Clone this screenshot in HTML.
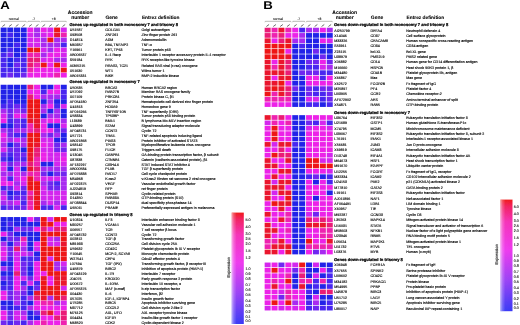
<!DOCTYPE html>
<html><head><meta charset="utf-8"><style>
html,body{margin:0;padding:0;background:#fff;width:520px;height:325px;overflow:hidden}
svg{display:block;font-family:"Liberation Sans",sans-serif;text-rendering:geometricPrecision;will-change:transform}
</style></head><body>
<svg width="520" height="325" viewBox="0 0 520 325">
<defs><filter id="bt" x="0" y="0" width="1" height="1"><feGaussianBlur stdDeviation="0.25"/></filter><filter id="bl" x="-0.05" y="-0.05" width="1.1" height="1.1"><feGaussianBlur stdDeviation="0.4"/></filter><linearGradient id="lg" x1="0" y1="0" x2="0" y2="1">
<stop offset="0" stop-color="#f01818"/>
<stop offset="0.06" stop-color="#f22060"/>
<stop offset="0.2" stop-color="#f530b8"/>
<stop offset="0.45" stop-color="#ee38ee"/>
<stop offset="0.72" stop-color="#9a40f5"/>
<stop offset="1" stop-color="#3838f5"/>
</linearGradient>
<linearGradient id="lh" x1="0" y1="0" x2="1" y2="0">
<stop offset="0" stop-color="#fff" stop-opacity="0.6"/>
<stop offset="0.18" stop-color="#fff" stop-opacity="0.25"/>
<stop offset="0.4" stop-color="#fff" stop-opacity="0.03"/>
<stop offset="1" stop-color="#fff" stop-opacity="0"/>
</linearGradient></defs>
<rect width="520" height="325" fill="#fff"/>
<g filter="url(#bl)"><rect x="0.65" y="27.55" width="6.00" height="4.70" fill="#2024e8"/>
<rect x="7.33" y="27.55" width="6.00" height="4.70" fill="#2024e8"/>
<rect x="14.01" y="27.55" width="6.00" height="4.70" fill="#2024e8"/>
<rect x="20.69" y="27.55" width="6.00" height="4.70" fill="#2024e8"/>
<rect x="27.37" y="27.55" width="6.00" height="4.70" fill="#ec23e8"/>
<rect x="34.05" y="27.55" width="6.00" height="4.70" fill="#a82af0"/>
<rect x="40.73" y="27.55" width="6.00" height="4.70" fill="#ec23e8"/>
<rect x="47.41" y="27.55" width="6.00" height="4.70" fill="#d428ee"/>
<rect x="54.09" y="27.55" width="6.00" height="4.70" fill="#ee1416"/>
<rect x="60.77" y="27.55" width="6.00" height="4.70" fill="#d428ee"/>
<rect x="0.65" y="32.58" width="6.00" height="4.70" fill="#2024e8"/>
<rect x="7.33" y="32.58" width="6.00" height="4.70" fill="#4828f0"/>
<rect x="14.01" y="32.58" width="6.00" height="4.70" fill="#2024e8"/>
<rect x="20.69" y="32.58" width="6.00" height="4.70" fill="#2024e8"/>
<rect x="27.37" y="32.58" width="6.00" height="4.70" fill="#d428ee"/>
<rect x="34.05" y="32.58" width="6.00" height="4.70" fill="#a82af0"/>
<rect x="40.73" y="32.58" width="6.00" height="4.70" fill="#d428ee"/>
<rect x="47.41" y="32.58" width="6.00" height="4.70" fill="#ec23e8"/>
<rect x="54.09" y="32.58" width="6.00" height="4.70" fill="#ea162d"/>
<rect x="60.77" y="32.58" width="6.00" height="4.70" fill="#ee20af"/>
<rect x="0.65" y="37.61" width="6.00" height="4.70" fill="#2024e8"/>
<rect x="7.33" y="37.61" width="6.00" height="4.70" fill="#2024e8"/>
<rect x="14.01" y="37.61" width="6.00" height="4.70" fill="#2024e8"/>
<rect x="20.69" y="37.61" width="6.00" height="4.70" fill="#2024e8"/>
<rect x="27.37" y="37.61" width="6.00" height="4.70" fill="#d428ee"/>
<rect x="34.05" y="37.61" width="6.00" height="4.70" fill="#d428ee"/>
<rect x="40.73" y="37.61" width="6.00" height="4.70" fill="#a82af0"/>
<rect x="47.41" y="37.61" width="6.00" height="4.70" fill="#ee1416"/>
<rect x="54.09" y="37.61" width="6.00" height="4.70" fill="#a82af0"/>
<rect x="60.77" y="37.61" width="6.00" height="4.70" fill="#a82af0"/>
<rect x="0.65" y="42.64" width="6.00" height="4.70" fill="#2024e8"/>
<rect x="7.33" y="42.64" width="6.00" height="4.70" fill="#2024e8"/>
<rect x="14.01" y="42.64" width="6.00" height="4.70" fill="#4828f0"/>
<rect x="20.69" y="42.64" width="6.00" height="4.70" fill="#2024e8"/>
<rect x="27.37" y="42.64" width="6.00" height="4.70" fill="#d428ee"/>
<rect x="34.05" y="42.64" width="6.00" height="4.70" fill="#d428ee"/>
<rect x="40.73" y="42.64" width="6.00" height="4.70" fill="#a82af0"/>
<rect x="47.41" y="42.64" width="6.00" height="4.70" fill="#a82af0"/>
<rect x="54.09" y="42.64" width="6.00" height="4.70" fill="#a82af0"/>
<rect x="60.77" y="42.64" width="6.00" height="4.70" fill="#4828f0"/>
<rect x="0.65" y="47.67" width="6.00" height="4.70" fill="#2024e8"/>
<rect x="7.33" y="47.67" width="6.00" height="4.70" fill="#4828f0"/>
<rect x="14.01" y="47.67" width="6.00" height="4.70" fill="#2024e8"/>
<rect x="20.69" y="47.67" width="6.00" height="4.70" fill="#2024e8"/>
<rect x="27.37" y="47.67" width="6.00" height="4.70" fill="#ee1416"/>
<rect x="34.05" y="47.67" width="6.00" height="4.70" fill="#ee1416"/>
<rect x="40.73" y="47.67" width="6.00" height="4.70" fill="#d428ee"/>
<rect x="47.41" y="47.67" width="6.00" height="4.70" fill="#a82af0"/>
<rect x="54.09" y="47.67" width="6.00" height="4.70" fill="#ec23e8"/>
<rect x="60.77" y="47.67" width="6.00" height="4.70" fill="#d428ee"/>
<rect x="0.65" y="52.70" width="6.00" height="4.70" fill="#4828f0"/>
<rect x="7.33" y="52.70" width="6.00" height="4.70" fill="#7028f0"/>
<rect x="14.01" y="52.70" width="6.00" height="4.70" fill="#2024e8"/>
<rect x="20.69" y="52.70" width="6.00" height="4.70" fill="#4828f0"/>
<rect x="27.37" y="52.70" width="6.00" height="4.70" fill="#ee20af"/>
<rect x="34.05" y="52.70" width="6.00" height="4.70" fill="#ee20af"/>
<rect x="40.73" y="52.70" width="6.00" height="4.70" fill="#a82af0"/>
<rect x="47.41" y="52.70" width="6.00" height="4.70" fill="#ec23e8"/>
<rect x="54.09" y="52.70" width="6.00" height="4.70" fill="#ec23e8"/>
<rect x="60.77" y="52.70" width="6.00" height="4.70" fill="#d428ee"/>
<rect x="0.65" y="57.73" width="6.00" height="4.70" fill="#4828f0"/>
<rect x="7.33" y="57.73" width="6.00" height="4.70" fill="#2024e8"/>
<rect x="14.01" y="57.73" width="6.00" height="4.70" fill="#4828f0"/>
<rect x="20.69" y="57.73" width="6.00" height="4.70" fill="#4828f0"/>
<rect x="27.37" y="57.73" width="6.00" height="4.70" fill="#ea1c76"/>
<rect x="34.05" y="57.73" width="6.00" height="4.70" fill="#ea1c76"/>
<rect x="40.73" y="57.73" width="6.00" height="4.70" fill="#d428ee"/>
<rect x="47.41" y="57.73" width="6.00" height="4.70" fill="#ec23e8"/>
<rect x="54.09" y="57.73" width="6.00" height="4.70" fill="#a82af0"/>
<rect x="60.77" y="57.73" width="6.00" height="4.70" fill="#a82af0"/>
<rect x="0.65" y="62.76" width="6.00" height="4.70" fill="#4828f0"/>
<rect x="7.33" y="62.76" width="6.00" height="4.70" fill="#2024e8"/>
<rect x="14.01" y="62.76" width="6.00" height="4.70" fill="#7028f0"/>
<rect x="20.69" y="62.76" width="6.00" height="4.70" fill="#4828f0"/>
<rect x="27.37" y="62.76" width="6.00" height="4.70" fill="#ea1c76"/>
<rect x="34.05" y="62.76" width="6.00" height="4.70" fill="#ee20af"/>
<rect x="40.73" y="62.76" width="6.00" height="4.70" fill="#ee1416"/>
<rect x="47.41" y="62.76" width="6.00" height="4.70" fill="#ec23e8"/>
<rect x="54.09" y="62.76" width="6.00" height="4.70" fill="#ee1416"/>
<rect x="60.77" y="62.76" width="6.00" height="4.70" fill="#ec23e8"/>
<rect x="0.65" y="67.79" width="6.00" height="4.70" fill="#4828f0"/>
<rect x="7.33" y="67.79" width="6.00" height="4.70" fill="#4828f0"/>
<rect x="14.01" y="67.79" width="6.00" height="4.70" fill="#4828f0"/>
<rect x="20.69" y="67.79" width="6.00" height="4.70" fill="#4828f0"/>
<rect x="27.37" y="67.79" width="6.00" height="4.70" fill="#ee20af"/>
<rect x="34.05" y="67.79" width="6.00" height="4.70" fill="#ec23e8"/>
<rect x="40.73" y="67.79" width="6.00" height="4.70" fill="#ec23e8"/>
<rect x="47.41" y="67.79" width="6.00" height="4.70" fill="#ec23e8"/>
<rect x="54.09" y="67.79" width="6.00" height="4.70" fill="#ec23e8"/>
<rect x="60.77" y="67.79" width="6.00" height="4.70" fill="#ee1416"/>
<rect x="0.65" y="72.82" width="6.00" height="4.70" fill="#4828f0"/>
<rect x="7.33" y="72.82" width="6.00" height="4.70" fill="#7028f0"/>
<rect x="14.01" y="72.82" width="6.00" height="4.70" fill="#4828f0"/>
<rect x="20.69" y="72.82" width="6.00" height="4.70" fill="#7028f0"/>
<rect x="27.37" y="72.82" width="6.00" height="4.70" fill="#ec23e8"/>
<rect x="34.05" y="72.82" width="6.00" height="4.70" fill="#ec23e8"/>
<rect x="40.73" y="72.82" width="6.00" height="4.70" fill="#ec23e8"/>
<rect x="47.41" y="72.82" width="6.00" height="4.70" fill="#ec23e8"/>
<rect x="54.09" y="72.82" width="6.00" height="4.70" fill="#ee20af"/>
<rect x="60.77" y="72.82" width="6.00" height="4.70" fill="#ec23e8"/>
<rect x="0.65" y="84.75" width="6.00" height="4.70" fill="#2024e8"/>
<rect x="7.33" y="84.75" width="6.00" height="4.70" fill="#2024e8"/>
<rect x="14.01" y="84.75" width="6.00" height="4.70" fill="#2024e8"/>
<rect x="20.69" y="84.75" width="6.00" height="4.70" fill="#2024e8"/>
<rect x="27.37" y="84.75" width="6.00" height="4.70" fill="#ea1c76"/>
<rect x="34.05" y="84.75" width="6.00" height="4.70" fill="#ec23e8"/>
<rect x="40.73" y="84.75" width="6.00" height="4.70" fill="#2024e8"/>
<rect x="47.41" y="84.75" width="6.00" height="4.70" fill="#2024e8"/>
<rect x="54.09" y="84.75" width="6.00" height="4.70" fill="#ec23e8"/>
<rect x="60.77" y="84.75" width="6.00" height="4.70" fill="#2024e8"/>
<rect x="0.65" y="89.57" width="6.00" height="4.70" fill="#2024e8"/>
<rect x="7.33" y="89.57" width="6.00" height="4.70" fill="#2024e8"/>
<rect x="14.01" y="89.57" width="6.00" height="4.70" fill="#2024e8"/>
<rect x="20.69" y="89.57" width="6.00" height="4.70" fill="#2024e8"/>
<rect x="27.37" y="89.57" width="6.00" height="4.70" fill="#ec23e8"/>
<rect x="34.05" y="89.57" width="6.00" height="4.70" fill="#ec23e8"/>
<rect x="40.73" y="89.57" width="6.00" height="4.70" fill="#4828f0"/>
<rect x="47.41" y="89.57" width="6.00" height="4.70" fill="#ec23e8"/>
<rect x="54.09" y="89.57" width="6.00" height="4.70" fill="#ec23e8"/>
<rect x="60.77" y="89.57" width="6.00" height="4.70" fill="#4828f0"/>
<rect x="0.65" y="94.39" width="6.00" height="4.70" fill="#2024e8"/>
<rect x="7.33" y="94.39" width="6.00" height="4.70" fill="#2024e8"/>
<rect x="14.01" y="94.39" width="6.00" height="4.70" fill="#2024e8"/>
<rect x="20.69" y="94.39" width="6.00" height="4.70" fill="#2024e8"/>
<rect x="27.37" y="94.39" width="6.00" height="4.70" fill="#ea1c76"/>
<rect x="34.05" y="94.39" width="6.00" height="4.70" fill="#ec23e8"/>
<rect x="40.73" y="94.39" width="6.00" height="4.70" fill="#a82af0"/>
<rect x="47.41" y="94.39" width="6.00" height="4.70" fill="#a82af0"/>
<rect x="54.09" y="94.39" width="6.00" height="4.70" fill="#a82af0"/>
<rect x="60.77" y="94.39" width="6.00" height="4.70" fill="#4828f0"/>
<rect x="0.65" y="99.21" width="6.00" height="4.70" fill="#2024e8"/>
<rect x="7.33" y="99.21" width="6.00" height="4.70" fill="#4828f0"/>
<rect x="14.01" y="99.21" width="6.00" height="4.70" fill="#2024e8"/>
<rect x="20.69" y="99.21" width="6.00" height="4.70" fill="#2024e8"/>
<rect x="27.37" y="99.21" width="6.00" height="4.70" fill="#ee1416"/>
<rect x="34.05" y="99.21" width="6.00" height="4.70" fill="#ee1416"/>
<rect x="40.73" y="99.21" width="6.00" height="4.70" fill="#2024e8"/>
<rect x="47.41" y="99.21" width="6.00" height="4.70" fill="#a82af0"/>
<rect x="54.09" y="99.21" width="6.00" height="4.70" fill="#2024e8"/>
<rect x="60.77" y="99.21" width="6.00" height="4.70" fill="#2024e8"/>
<rect x="0.65" y="104.03" width="6.00" height="4.70" fill="#4828f0"/>
<rect x="7.33" y="104.03" width="6.00" height="4.70" fill="#4828f0"/>
<rect x="14.01" y="104.03" width="6.00" height="4.70" fill="#7028f0"/>
<rect x="20.69" y="104.03" width="6.00" height="4.70" fill="#4828f0"/>
<rect x="27.37" y="104.03" width="6.00" height="4.70" fill="#ee1416"/>
<rect x="34.05" y="104.03" width="6.00" height="4.70" fill="#ee1416"/>
<rect x="40.73" y="104.03" width="6.00" height="4.70" fill="#a82af0"/>
<rect x="47.41" y="104.03" width="6.00" height="4.70" fill="#ec23e8"/>
<rect x="54.09" y="104.03" width="6.00" height="4.70" fill="#4828f0"/>
<rect x="60.77" y="104.03" width="6.00" height="4.70" fill="#d428ee"/>
<rect x="0.65" y="108.85" width="6.00" height="4.70" fill="#a82af0"/>
<rect x="7.33" y="108.85" width="6.00" height="4.70" fill="#7028f0"/>
<rect x="14.01" y="108.85" width="6.00" height="4.70" fill="#a82af0"/>
<rect x="20.69" y="108.85" width="6.00" height="4.70" fill="#7028f0"/>
<rect x="27.37" y="108.85" width="6.00" height="4.70" fill="#ee1416"/>
<rect x="34.05" y="108.85" width="6.00" height="4.70" fill="#ee1416"/>
<rect x="40.73" y="108.85" width="6.00" height="4.70" fill="#a82af0"/>
<rect x="47.41" y="108.85" width="6.00" height="4.70" fill="#2024e8"/>
<rect x="54.09" y="108.85" width="6.00" height="4.70" fill="#a82af0"/>
<rect x="60.77" y="108.85" width="6.00" height="4.70" fill="#2024e8"/>
<rect x="0.65" y="113.67" width="6.00" height="4.70" fill="#d428ee"/>
<rect x="7.33" y="113.67" width="6.00" height="4.70" fill="#7028f0"/>
<rect x="14.01" y="113.67" width="6.00" height="4.70" fill="#ec23e8"/>
<rect x="20.69" y="113.67" width="6.00" height="4.70" fill="#d428ee"/>
<rect x="27.37" y="113.67" width="6.00" height="4.70" fill="#ee1416"/>
<rect x="34.05" y="113.67" width="6.00" height="4.70" fill="#ee1416"/>
<rect x="40.73" y="113.67" width="6.00" height="4.70" fill="#2024e8"/>
<rect x="47.41" y="113.67" width="6.00" height="4.70" fill="#a82af0"/>
<rect x="54.09" y="113.67" width="6.00" height="4.70" fill="#a82af0"/>
<rect x="60.77" y="113.67" width="6.00" height="4.70" fill="#2024e8"/>
<rect x="0.65" y="118.49" width="6.00" height="4.70" fill="#ec23e8"/>
<rect x="7.33" y="118.49" width="6.00" height="4.70" fill="#4828f0"/>
<rect x="14.01" y="118.49" width="6.00" height="4.70" fill="#7028f0"/>
<rect x="20.69" y="118.49" width="6.00" height="4.70" fill="#4828f0"/>
<rect x="27.37" y="118.49" width="6.00" height="4.70" fill="#ea162d"/>
<rect x="34.05" y="118.49" width="6.00" height="4.70" fill="#ea162d"/>
<rect x="40.73" y="118.49" width="6.00" height="4.70" fill="#d428ee"/>
<rect x="47.41" y="118.49" width="6.00" height="4.70" fill="#ec23e8"/>
<rect x="54.09" y="118.49" width="6.00" height="4.70" fill="#ec23e8"/>
<rect x="60.77" y="118.49" width="6.00" height="4.70" fill="#a82af0"/>
<rect x="0.65" y="123.31" width="6.00" height="4.70" fill="#2024e8"/>
<rect x="7.33" y="123.31" width="6.00" height="4.70" fill="#2024e8"/>
<rect x="14.01" y="123.31" width="6.00" height="4.70" fill="#7028f0"/>
<rect x="20.69" y="123.31" width="6.00" height="4.70" fill="#4828f0"/>
<rect x="27.37" y="123.31" width="6.00" height="4.70" fill="#ee20af"/>
<rect x="34.05" y="123.31" width="6.00" height="4.70" fill="#ea162d"/>
<rect x="40.73" y="123.31" width="6.00" height="4.70" fill="#ec23e8"/>
<rect x="47.41" y="123.31" width="6.00" height="4.70" fill="#2024e8"/>
<rect x="54.09" y="123.31" width="6.00" height="4.70" fill="#2024e8"/>
<rect x="60.77" y="123.31" width="6.00" height="4.70" fill="#d428ee"/>
<rect x="0.65" y="128.13" width="6.00" height="4.70" fill="#a82af0"/>
<rect x="7.33" y="128.13" width="6.00" height="4.70" fill="#7028f0"/>
<rect x="14.01" y="128.13" width="6.00" height="4.70" fill="#a82af0"/>
<rect x="20.69" y="128.13" width="6.00" height="4.70" fill="#a82af0"/>
<rect x="27.37" y="128.13" width="6.00" height="4.70" fill="#ee20af"/>
<rect x="34.05" y="128.13" width="6.00" height="4.70" fill="#ea1c76"/>
<rect x="40.73" y="128.13" width="6.00" height="4.70" fill="#ec23e8"/>
<rect x="47.41" y="128.13" width="6.00" height="4.70" fill="#ec23e8"/>
<rect x="54.09" y="128.13" width="6.00" height="4.70" fill="#7028f0"/>
<rect x="60.77" y="128.13" width="6.00" height="4.70" fill="#7028f0"/>
<rect x="0.65" y="132.95" width="6.00" height="4.70" fill="#ec23e8"/>
<rect x="7.33" y="132.95" width="6.00" height="4.70" fill="#7028f0"/>
<rect x="14.01" y="132.95" width="6.00" height="4.70" fill="#4828f0"/>
<rect x="20.69" y="132.95" width="6.00" height="4.70" fill="#4828f0"/>
<rect x="27.37" y="132.95" width="6.00" height="4.70" fill="#ee1416"/>
<rect x="34.05" y="132.95" width="6.00" height="4.70" fill="#ee1416"/>
<rect x="40.73" y="132.95" width="6.00" height="4.70" fill="#a82af0"/>
<rect x="47.41" y="132.95" width="6.00" height="4.70" fill="#7028f0"/>
<rect x="54.09" y="132.95" width="6.00" height="4.70" fill="#a82af0"/>
<rect x="60.77" y="132.95" width="6.00" height="4.70" fill="#2024e8"/>
<rect x="0.65" y="137.77" width="6.00" height="4.70" fill="#d428ee"/>
<rect x="7.33" y="137.77" width="6.00" height="4.70" fill="#a82af0"/>
<rect x="14.01" y="137.77" width="6.00" height="4.70" fill="#d428ee"/>
<rect x="20.69" y="137.77" width="6.00" height="4.70" fill="#a82af0"/>
<rect x="27.37" y="137.77" width="6.00" height="4.70" fill="#ee1416"/>
<rect x="34.05" y="137.77" width="6.00" height="4.70" fill="#ee1416"/>
<rect x="40.73" y="137.77" width="6.00" height="4.70" fill="#d428ee"/>
<rect x="47.41" y="137.77" width="6.00" height="4.70" fill="#d428ee"/>
<rect x="54.09" y="137.77" width="6.00" height="4.70" fill="#2024e8"/>
<rect x="60.77" y="137.77" width="6.00" height="4.70" fill="#2024e8"/>
<rect x="0.65" y="142.59" width="6.00" height="4.70" fill="#a82af0"/>
<rect x="7.33" y="142.59" width="6.00" height="4.70" fill="#2024e8"/>
<rect x="14.01" y="142.59" width="6.00" height="4.70" fill="#7028f0"/>
<rect x="20.69" y="142.59" width="6.00" height="4.70" fill="#a82af0"/>
<rect x="27.37" y="142.59" width="6.00" height="4.70" fill="#ee1416"/>
<rect x="34.05" y="142.59" width="6.00" height="4.70" fill="#ea162d"/>
<rect x="40.73" y="142.59" width="6.00" height="4.70" fill="#ec23e8"/>
<rect x="47.41" y="142.59" width="6.00" height="4.70" fill="#d428ee"/>
<rect x="54.09" y="142.59" width="6.00" height="4.70" fill="#7028f0"/>
<rect x="60.77" y="142.59" width="6.00" height="4.70" fill="#a82af0"/>
<rect x="0.65" y="147.41" width="6.00" height="4.70" fill="#d428ee"/>
<rect x="7.33" y="147.41" width="6.00" height="4.70" fill="#7028f0"/>
<rect x="14.01" y="147.41" width="6.00" height="4.70" fill="#7028f0"/>
<rect x="20.69" y="147.41" width="6.00" height="4.70" fill="#2024e8"/>
<rect x="27.37" y="147.41" width="6.00" height="4.70" fill="#ee1416"/>
<rect x="34.05" y="147.41" width="6.00" height="4.70" fill="#ea1c76"/>
<rect x="40.73" y="147.41" width="6.00" height="4.70" fill="#d428ee"/>
<rect x="47.41" y="147.41" width="6.00" height="4.70" fill="#d428ee"/>
<rect x="54.09" y="147.41" width="6.00" height="4.70" fill="#7028f0"/>
<rect x="60.77" y="147.41" width="6.00" height="4.70" fill="#7028f0"/>
<rect x="0.65" y="152.23" width="6.00" height="4.70" fill="#7028f0"/>
<rect x="7.33" y="152.23" width="6.00" height="4.70" fill="#4828f0"/>
<rect x="14.01" y="152.23" width="6.00" height="4.70" fill="#7028f0"/>
<rect x="20.69" y="152.23" width="6.00" height="4.70" fill="#7028f0"/>
<rect x="27.37" y="152.23" width="6.00" height="4.70" fill="#ea162d"/>
<rect x="34.05" y="152.23" width="6.00" height="4.70" fill="#ea1c76"/>
<rect x="40.73" y="152.23" width="6.00" height="4.70" fill="#ec23e8"/>
<rect x="47.41" y="152.23" width="6.00" height="4.70" fill="#d428ee"/>
<rect x="54.09" y="152.23" width="6.00" height="4.70" fill="#d428ee"/>
<rect x="60.77" y="152.23" width="6.00" height="4.70" fill="#d428ee"/>
<rect x="0.65" y="157.05" width="6.00" height="4.70" fill="#4828f0"/>
<rect x="7.33" y="157.05" width="6.00" height="4.70" fill="#2024e8"/>
<rect x="14.01" y="157.05" width="6.00" height="4.70" fill="#7028f0"/>
<rect x="20.69" y="157.05" width="6.00" height="4.70" fill="#4828f0"/>
<rect x="27.37" y="157.05" width="6.00" height="4.70" fill="#ea162d"/>
<rect x="34.05" y="157.05" width="6.00" height="4.70" fill="#ee20af"/>
<rect x="40.73" y="157.05" width="6.00" height="4.70" fill="#ec23e8"/>
<rect x="47.41" y="157.05" width="6.00" height="4.70" fill="#d428ee"/>
<rect x="54.09" y="157.05" width="6.00" height="4.70" fill="#d428ee"/>
<rect x="60.77" y="157.05" width="6.00" height="4.70" fill="#ec23e8"/>
<rect x="0.65" y="161.87" width="6.00" height="4.70" fill="#d428ee"/>
<rect x="7.33" y="161.87" width="6.00" height="4.70" fill="#7028f0"/>
<rect x="14.01" y="161.87" width="6.00" height="4.70" fill="#a82af0"/>
<rect x="20.69" y="161.87" width="6.00" height="4.70" fill="#a82af0"/>
<rect x="27.37" y="161.87" width="6.00" height="4.70" fill="#ea1c76"/>
<rect x="34.05" y="161.87" width="6.00" height="4.70" fill="#ee20af"/>
<rect x="40.73" y="161.87" width="6.00" height="4.70" fill="#2024e8"/>
<rect x="47.41" y="161.87" width="6.00" height="4.70" fill="#2024e8"/>
<rect x="54.09" y="161.87" width="6.00" height="4.70" fill="#d428ee"/>
<rect x="60.77" y="161.87" width="6.00" height="4.70" fill="#d428ee"/>
<rect x="0.65" y="166.69" width="6.00" height="4.70" fill="#d428ee"/>
<rect x="7.33" y="166.69" width="6.00" height="4.70" fill="#2024e8"/>
<rect x="14.01" y="166.69" width="6.00" height="4.70" fill="#d428ee"/>
<rect x="20.69" y="166.69" width="6.00" height="4.70" fill="#2024e8"/>
<rect x="27.37" y="166.69" width="6.00" height="4.70" fill="#ea162d"/>
<rect x="34.05" y="166.69" width="6.00" height="4.70" fill="#ea1c76"/>
<rect x="40.73" y="166.69" width="6.00" height="4.70" fill="#a82af0"/>
<rect x="47.41" y="166.69" width="6.00" height="4.70" fill="#a82af0"/>
<rect x="54.09" y="166.69" width="6.00" height="4.70" fill="#a82af0"/>
<rect x="60.77" y="166.69" width="6.00" height="4.70" fill="#a82af0"/>
<rect x="0.65" y="171.51" width="6.00" height="4.70" fill="#a82af0"/>
<rect x="7.33" y="171.51" width="6.00" height="4.70" fill="#a82af0"/>
<rect x="14.01" y="171.51" width="6.00" height="4.70" fill="#d428ee"/>
<rect x="20.69" y="171.51" width="6.00" height="4.70" fill="#a82af0"/>
<rect x="27.37" y="171.51" width="6.00" height="4.70" fill="#ee20af"/>
<rect x="34.05" y="171.51" width="6.00" height="4.70" fill="#ee20af"/>
<rect x="40.73" y="171.51" width="6.00" height="4.70" fill="#7028f0"/>
<rect x="47.41" y="171.51" width="6.00" height="4.70" fill="#2024e8"/>
<rect x="54.09" y="171.51" width="6.00" height="4.70" fill="#7028f0"/>
<rect x="60.77" y="171.51" width="6.00" height="4.70" fill="#7028f0"/>
<rect x="0.65" y="176.33" width="6.00" height="4.70" fill="#d428ee"/>
<rect x="7.33" y="176.33" width="6.00" height="4.70" fill="#4828f0"/>
<rect x="14.01" y="176.33" width="6.00" height="4.70" fill="#d428ee"/>
<rect x="20.69" y="176.33" width="6.00" height="4.70" fill="#ec23e8"/>
<rect x="27.37" y="176.33" width="6.00" height="4.70" fill="#ea162d"/>
<rect x="34.05" y="176.33" width="6.00" height="4.70" fill="#ee20af"/>
<rect x="40.73" y="176.33" width="6.00" height="4.70" fill="#d428ee"/>
<rect x="47.41" y="176.33" width="6.00" height="4.70" fill="#d428ee"/>
<rect x="54.09" y="176.33" width="6.00" height="4.70" fill="#d428ee"/>
<rect x="60.77" y="176.33" width="6.00" height="4.70" fill="#a82af0"/>
<rect x="0.65" y="181.15" width="6.00" height="4.70" fill="#ec23e8"/>
<rect x="7.33" y="181.15" width="6.00" height="4.70" fill="#ec23e8"/>
<rect x="14.01" y="181.15" width="6.00" height="4.70" fill="#a82af0"/>
<rect x="20.69" y="181.15" width="6.00" height="4.70" fill="#d428ee"/>
<rect x="27.37" y="181.15" width="6.00" height="4.70" fill="#ee1416"/>
<rect x="34.05" y="181.15" width="6.00" height="4.70" fill="#ee1416"/>
<rect x="40.73" y="181.15" width="6.00" height="4.70" fill="#a82af0"/>
<rect x="47.41" y="181.15" width="6.00" height="4.70" fill="#7028f0"/>
<rect x="54.09" y="181.15" width="6.00" height="4.70" fill="#4828f0"/>
<rect x="60.77" y="181.15" width="6.00" height="4.70" fill="#a82af0"/>
<rect x="0.65" y="185.97" width="6.00" height="4.70" fill="#4828f0"/>
<rect x="7.33" y="185.97" width="6.00" height="4.70" fill="#7028f0"/>
<rect x="14.01" y="185.97" width="6.00" height="4.70" fill="#d428ee"/>
<rect x="20.69" y="185.97" width="6.00" height="4.70" fill="#7028f0"/>
<rect x="27.37" y="185.97" width="6.00" height="4.70" fill="#ee1416"/>
<rect x="34.05" y="185.97" width="6.00" height="4.70" fill="#ee1416"/>
<rect x="40.73" y="185.97" width="6.00" height="4.70" fill="#d428ee"/>
<rect x="47.41" y="185.97" width="6.00" height="4.70" fill="#7028f0"/>
<rect x="54.09" y="185.97" width="6.00" height="4.70" fill="#7028f0"/>
<rect x="60.77" y="185.97" width="6.00" height="4.70" fill="#a82af0"/>
<rect x="0.65" y="190.79" width="6.00" height="4.70" fill="#a82af0"/>
<rect x="7.33" y="190.79" width="6.00" height="4.70" fill="#2024e8"/>
<rect x="14.01" y="190.79" width="6.00" height="4.70" fill="#4828f0"/>
<rect x="20.69" y="190.79" width="6.00" height="4.70" fill="#4828f0"/>
<rect x="27.37" y="190.79" width="6.00" height="4.70" fill="#ee20af"/>
<rect x="34.05" y="190.79" width="6.00" height="4.70" fill="#ea162d"/>
<rect x="40.73" y="190.79" width="6.00" height="4.70" fill="#d428ee"/>
<rect x="47.41" y="190.79" width="6.00" height="4.70" fill="#d428ee"/>
<rect x="54.09" y="190.79" width="6.00" height="4.70" fill="#d428ee"/>
<rect x="60.77" y="190.79" width="6.00" height="4.70" fill="#d428ee"/>
<rect x="0.65" y="195.61" width="6.00" height="4.70" fill="#d428ee"/>
<rect x="7.33" y="195.61" width="6.00" height="4.70" fill="#4828f0"/>
<rect x="14.01" y="195.61" width="6.00" height="4.70" fill="#7028f0"/>
<rect x="20.69" y="195.61" width="6.00" height="4.70" fill="#7028f0"/>
<rect x="27.37" y="195.61" width="6.00" height="4.70" fill="#ea1c76"/>
<rect x="34.05" y="195.61" width="6.00" height="4.70" fill="#ee1416"/>
<rect x="40.73" y="195.61" width="6.00" height="4.70" fill="#d428ee"/>
<rect x="47.41" y="195.61" width="6.00" height="4.70" fill="#d428ee"/>
<rect x="54.09" y="195.61" width="6.00" height="4.70" fill="#d428ee"/>
<rect x="60.77" y="195.61" width="6.00" height="4.70" fill="#d428ee"/>
<rect x="0.65" y="200.43" width="6.00" height="4.70" fill="#a82af0"/>
<rect x="7.33" y="200.43" width="6.00" height="4.70" fill="#a82af0"/>
<rect x="14.01" y="200.43" width="6.00" height="4.70" fill="#d428ee"/>
<rect x="20.69" y="200.43" width="6.00" height="4.70" fill="#4828f0"/>
<rect x="27.37" y="200.43" width="6.00" height="4.70" fill="#ee20af"/>
<rect x="34.05" y="200.43" width="6.00" height="4.70" fill="#ea162d"/>
<rect x="40.73" y="200.43" width="6.00" height="4.70" fill="#a82af0"/>
<rect x="47.41" y="200.43" width="6.00" height="4.70" fill="#d428ee"/>
<rect x="54.09" y="200.43" width="6.00" height="4.70" fill="#a82af0"/>
<rect x="60.77" y="200.43" width="6.00" height="4.70" fill="#d428ee"/>
<rect x="0.65" y="205.25" width="6.00" height="4.70" fill="#4828f0"/>
<rect x="7.33" y="205.25" width="6.00" height="4.70" fill="#7028f0"/>
<rect x="14.01" y="205.25" width="6.00" height="4.70" fill="#7028f0"/>
<rect x="20.69" y="205.25" width="6.00" height="4.70" fill="#7028f0"/>
<rect x="27.37" y="205.25" width="6.00" height="4.70" fill="#ee20af"/>
<rect x="34.05" y="205.25" width="6.00" height="4.70" fill="#ee1416"/>
<rect x="40.73" y="205.25" width="6.00" height="4.70" fill="#4828f0"/>
<rect x="47.41" y="205.25" width="6.00" height="4.70" fill="#4828f0"/>
<rect x="54.09" y="205.25" width="6.00" height="4.70" fill="#d428ee"/>
<rect x="60.77" y="205.25" width="6.00" height="4.70" fill="#4828f0"/>
<rect x="0.65" y="217.05" width="6.00" height="4.70" fill="#2024e8"/>
<rect x="7.33" y="217.05" width="6.00" height="4.70" fill="#2024e8"/>
<rect x="14.01" y="217.05" width="6.00" height="4.70" fill="#2024e8"/>
<rect x="20.69" y="217.05" width="6.00" height="4.70" fill="#2024e8"/>
<rect x="27.37" y="217.05" width="6.00" height="4.70" fill="#ec23e8"/>
<rect x="34.05" y="217.05" width="6.00" height="4.70" fill="#7028f0"/>
<rect x="40.73" y="217.05" width="6.00" height="4.70" fill="#ee1416"/>
<rect x="47.41" y="217.05" width="6.00" height="4.70" fill="#d428ee"/>
<rect x="54.09" y="217.05" width="6.00" height="4.70" fill="#ee1416"/>
<rect x="60.77" y="217.05" width="6.00" height="4.70" fill="#ee1416"/>
<rect x="0.65" y="221.97" width="6.00" height="4.70" fill="#2024e8"/>
<rect x="7.33" y="221.97" width="6.00" height="4.70" fill="#4828f0"/>
<rect x="14.01" y="221.97" width="6.00" height="4.70" fill="#2024e8"/>
<rect x="20.69" y="221.97" width="6.00" height="4.70" fill="#2024e8"/>
<rect x="27.37" y="221.97" width="6.00" height="4.70" fill="#2024e8"/>
<rect x="34.05" y="221.97" width="6.00" height="4.70" fill="#2024e8"/>
<rect x="40.73" y="221.97" width="6.00" height="4.70" fill="#ee1416"/>
<rect x="47.41" y="221.97" width="6.00" height="4.70" fill="#ee1416"/>
<rect x="54.09" y="221.97" width="6.00" height="4.70" fill="#ec23e8"/>
<rect x="60.77" y="221.97" width="6.00" height="4.70" fill="#ec23e8"/>
<rect x="0.65" y="226.89" width="6.00" height="4.70" fill="#2024e8"/>
<rect x="7.33" y="226.89" width="6.00" height="4.70" fill="#2024e8"/>
<rect x="14.01" y="226.89" width="6.00" height="4.70" fill="#a82af0"/>
<rect x="20.69" y="226.89" width="6.00" height="4.70" fill="#7028f0"/>
<rect x="27.37" y="226.89" width="6.00" height="4.70" fill="#7028f0"/>
<rect x="34.05" y="226.89" width="6.00" height="4.70" fill="#ec23e8"/>
<rect x="40.73" y="226.89" width="6.00" height="4.70" fill="#ea1c76"/>
<rect x="47.41" y="226.89" width="6.00" height="4.70" fill="#d428ee"/>
<rect x="54.09" y="226.89" width="6.00" height="4.70" fill="#ea1c76"/>
<rect x="60.77" y="226.89" width="6.00" height="4.70" fill="#ea1c76"/>
<rect x="0.65" y="231.81" width="6.00" height="4.70" fill="#ec23e8"/>
<rect x="7.33" y="231.81" width="6.00" height="4.70" fill="#7028f0"/>
<rect x="14.01" y="231.81" width="6.00" height="4.70" fill="#2024e8"/>
<rect x="20.69" y="231.81" width="6.00" height="4.70" fill="#2024e8"/>
<rect x="27.37" y="231.81" width="6.00" height="4.70" fill="#2024e8"/>
<rect x="34.05" y="231.81" width="6.00" height="4.70" fill="#2024e8"/>
<rect x="40.73" y="231.81" width="6.00" height="4.70" fill="#ee1416"/>
<rect x="47.41" y="231.81" width="6.00" height="4.70" fill="#ee1416"/>
<rect x="54.09" y="231.81" width="6.00" height="4.70" fill="#ee1416"/>
<rect x="60.77" y="231.81" width="6.00" height="4.70" fill="#ee1416"/>
<rect x="0.65" y="236.73" width="6.00" height="4.70" fill="#2024e8"/>
<rect x="7.33" y="236.73" width="6.00" height="4.70" fill="#7028f0"/>
<rect x="14.01" y="236.73" width="6.00" height="4.70" fill="#7028f0"/>
<rect x="20.69" y="236.73" width="6.00" height="4.70" fill="#ee20af"/>
<rect x="27.37" y="236.73" width="6.00" height="4.70" fill="#2024e8"/>
<rect x="34.05" y="236.73" width="6.00" height="4.70" fill="#2024e8"/>
<rect x="40.73" y="236.73" width="6.00" height="4.70" fill="#ee1416"/>
<rect x="47.41" y="236.73" width="6.00" height="4.70" fill="#d428ee"/>
<rect x="54.09" y="236.73" width="6.00" height="4.70" fill="#a82af0"/>
<rect x="60.77" y="236.73" width="6.00" height="4.70" fill="#ee1416"/>
<rect x="0.65" y="241.65" width="6.00" height="4.70" fill="#a82af0"/>
<rect x="7.33" y="241.65" width="6.00" height="4.70" fill="#2024e8"/>
<rect x="14.01" y="241.65" width="6.00" height="4.70" fill="#a82af0"/>
<rect x="20.69" y="241.65" width="6.00" height="4.70" fill="#d428ee"/>
<rect x="27.37" y="241.65" width="6.00" height="4.70" fill="#2024e8"/>
<rect x="34.05" y="241.65" width="6.00" height="4.70" fill="#ec23e8"/>
<rect x="40.73" y="241.65" width="6.00" height="4.70" fill="#ee1416"/>
<rect x="47.41" y="241.65" width="6.00" height="4.70" fill="#d428ee"/>
<rect x="54.09" y="241.65" width="6.00" height="4.70" fill="#d428ee"/>
<rect x="60.77" y="241.65" width="6.00" height="4.70" fill="#ea162d"/>
<rect x="0.65" y="246.57" width="6.00" height="4.70" fill="#d428ee"/>
<rect x="7.33" y="246.57" width="6.00" height="4.70" fill="#7028f0"/>
<rect x="14.01" y="246.57" width="6.00" height="4.70" fill="#ea1c76"/>
<rect x="20.69" y="246.57" width="6.00" height="4.70" fill="#a82af0"/>
<rect x="27.37" y="246.57" width="6.00" height="4.70" fill="#2024e8"/>
<rect x="34.05" y="246.57" width="6.00" height="4.70" fill="#d428ee"/>
<rect x="40.73" y="246.57" width="6.00" height="4.70" fill="#ee1416"/>
<rect x="47.41" y="246.57" width="6.00" height="4.70" fill="#ee1416"/>
<rect x="54.09" y="246.57" width="6.00" height="4.70" fill="#ee1416"/>
<rect x="60.77" y="246.57" width="6.00" height="4.70" fill="#ee1416"/>
<rect x="0.65" y="251.49" width="6.00" height="4.70" fill="#ec23e8"/>
<rect x="7.33" y="251.49" width="6.00" height="4.70" fill="#7028f0"/>
<rect x="14.01" y="251.49" width="6.00" height="4.70" fill="#d428ee"/>
<rect x="20.69" y="251.49" width="6.00" height="4.70" fill="#d428ee"/>
<rect x="27.37" y="251.49" width="6.00" height="4.70" fill="#a82af0"/>
<rect x="34.05" y="251.49" width="6.00" height="4.70" fill="#2024e8"/>
<rect x="40.73" y="251.49" width="6.00" height="4.70" fill="#ee1416"/>
<rect x="47.41" y="251.49" width="6.00" height="4.70" fill="#ee1416"/>
<rect x="54.09" y="251.49" width="6.00" height="4.70" fill="#ee1416"/>
<rect x="60.77" y="251.49" width="6.00" height="4.70" fill="#ee1416"/>
<rect x="0.65" y="256.41" width="6.00" height="4.70" fill="#d428ee"/>
<rect x="7.33" y="256.41" width="6.00" height="4.70" fill="#4828f0"/>
<rect x="14.01" y="256.41" width="6.00" height="4.70" fill="#d428ee"/>
<rect x="20.69" y="256.41" width="6.00" height="4.70" fill="#4828f0"/>
<rect x="27.37" y="256.41" width="6.00" height="4.70" fill="#4828f0"/>
<rect x="34.05" y="256.41" width="6.00" height="4.70" fill="#4828f0"/>
<rect x="40.73" y="256.41" width="6.00" height="4.70" fill="#ee1416"/>
<rect x="47.41" y="256.41" width="6.00" height="4.70" fill="#d428ee"/>
<rect x="54.09" y="256.41" width="6.00" height="4.70" fill="#ee1416"/>
<rect x="60.77" y="256.41" width="6.00" height="4.70" fill="#ee1416"/>
<rect x="0.65" y="261.33" width="6.00" height="4.70" fill="#2024e8"/>
<rect x="7.33" y="261.33" width="6.00" height="4.70" fill="#2024e8"/>
<rect x="14.01" y="261.33" width="6.00" height="4.70" fill="#ec23e8"/>
<rect x="20.69" y="261.33" width="6.00" height="4.70" fill="#7028f0"/>
<rect x="27.37" y="261.33" width="6.00" height="4.70" fill="#4828f0"/>
<rect x="34.05" y="261.33" width="6.00" height="4.70" fill="#ec23e8"/>
<rect x="40.73" y="261.33" width="6.00" height="4.70" fill="#ee1416"/>
<rect x="47.41" y="261.33" width="6.00" height="4.70" fill="#ee1416"/>
<rect x="54.09" y="261.33" width="6.00" height="4.70" fill="#a82af0"/>
<rect x="60.77" y="261.33" width="6.00" height="4.70" fill="#d428ee"/>
<rect x="0.65" y="266.25" width="6.00" height="4.70" fill="#a82af0"/>
<rect x="7.33" y="266.25" width="6.00" height="4.70" fill="#4828f0"/>
<rect x="14.01" y="266.25" width="6.00" height="4.70" fill="#ec23e8"/>
<rect x="20.69" y="266.25" width="6.00" height="4.70" fill="#7028f0"/>
<rect x="27.37" y="266.25" width="6.00" height="4.70" fill="#2024e8"/>
<rect x="34.05" y="266.25" width="6.00" height="4.70" fill="#ec23e8"/>
<rect x="40.73" y="266.25" width="6.00" height="4.70" fill="#ee1416"/>
<rect x="47.41" y="266.25" width="6.00" height="4.70" fill="#ee1416"/>
<rect x="54.09" y="266.25" width="6.00" height="4.70" fill="#a82af0"/>
<rect x="60.77" y="266.25" width="6.00" height="4.70" fill="#a82af0"/>
<rect x="0.65" y="271.17" width="6.00" height="4.70" fill="#2024e8"/>
<rect x="7.33" y="271.17" width="6.00" height="4.70" fill="#2024e8"/>
<rect x="14.01" y="271.17" width="6.00" height="4.70" fill="#ea1c76"/>
<rect x="20.69" y="271.17" width="6.00" height="4.70" fill="#7028f0"/>
<rect x="27.37" y="271.17" width="6.00" height="4.70" fill="#2024e8"/>
<rect x="34.05" y="271.17" width="6.00" height="4.70" fill="#ec23e8"/>
<rect x="40.73" y="271.17" width="6.00" height="4.70" fill="#ec23e8"/>
<rect x="47.41" y="271.17" width="6.00" height="4.70" fill="#ee1416"/>
<rect x="54.09" y="271.17" width="6.00" height="4.70" fill="#ee1416"/>
<rect x="60.77" y="271.17" width="6.00" height="4.70" fill="#ee1416"/>
<rect x="0.65" y="276.09" width="6.00" height="4.70" fill="#7028f0"/>
<rect x="7.33" y="276.09" width="6.00" height="4.70" fill="#4828f0"/>
<rect x="14.01" y="276.09" width="6.00" height="4.70" fill="#ec23e8"/>
<rect x="20.69" y="276.09" width="6.00" height="4.70" fill="#d428ee"/>
<rect x="27.37" y="276.09" width="6.00" height="4.70" fill="#7028f0"/>
<rect x="34.05" y="276.09" width="6.00" height="4.70" fill="#ec23e8"/>
<rect x="40.73" y="276.09" width="6.00" height="4.70" fill="#ea162d"/>
<rect x="47.41" y="276.09" width="6.00" height="4.70" fill="#ec23e8"/>
<rect x="54.09" y="276.09" width="6.00" height="4.70" fill="#ea162d"/>
<rect x="60.77" y="276.09" width="6.00" height="4.70" fill="#ea162d"/>
<rect x="0.65" y="281.01" width="6.00" height="4.70" fill="#2024e8"/>
<rect x="7.33" y="281.01" width="6.00" height="4.70" fill="#4828f0"/>
<rect x="14.01" y="281.01" width="6.00" height="4.70" fill="#ec23e8"/>
<rect x="20.69" y="281.01" width="6.00" height="4.70" fill="#4828f0"/>
<rect x="27.37" y="281.01" width="6.00" height="4.70" fill="#d428ee"/>
<rect x="34.05" y="281.01" width="6.00" height="4.70" fill="#4828f0"/>
<rect x="40.73" y="281.01" width="6.00" height="4.70" fill="#ee1416"/>
<rect x="47.41" y="281.01" width="6.00" height="4.70" fill="#ec23e8"/>
<rect x="54.09" y="281.01" width="6.00" height="4.70" fill="#ea162d"/>
<rect x="60.77" y="281.01" width="6.00" height="4.70" fill="#ea162d"/>
<rect x="0.65" y="285.93" width="6.00" height="4.70" fill="#4828f0"/>
<rect x="7.33" y="285.93" width="6.00" height="4.70" fill="#4828f0"/>
<rect x="14.01" y="285.93" width="6.00" height="4.70" fill="#ec23e8"/>
<rect x="20.69" y="285.93" width="6.00" height="4.70" fill="#a82af0"/>
<rect x="27.37" y="285.93" width="6.00" height="4.70" fill="#2024e8"/>
<rect x="34.05" y="285.93" width="6.00" height="4.70" fill="#7028f0"/>
<rect x="40.73" y="285.93" width="6.00" height="4.70" fill="#ee1416"/>
<rect x="47.41" y="285.93" width="6.00" height="4.70" fill="#ee1416"/>
<rect x="54.09" y="285.93" width="6.00" height="4.70" fill="#ee1416"/>
<rect x="60.77" y="285.93" width="6.00" height="4.70" fill="#d428ee"/>
<rect x="0.65" y="290.85" width="6.00" height="4.70" fill="#ec23e8"/>
<rect x="7.33" y="290.85" width="6.00" height="4.70" fill="#7028f0"/>
<rect x="14.01" y="290.85" width="6.00" height="4.70" fill="#a82af0"/>
<rect x="20.69" y="290.85" width="6.00" height="4.70" fill="#7028f0"/>
<rect x="27.37" y="290.85" width="6.00" height="4.70" fill="#2024e8"/>
<rect x="34.05" y="290.85" width="6.00" height="4.70" fill="#ea162d"/>
<rect x="40.73" y="290.85" width="6.00" height="4.70" fill="#ee1416"/>
<rect x="47.41" y="290.85" width="6.00" height="4.70" fill="#ee1416"/>
<rect x="54.09" y="290.85" width="6.00" height="4.70" fill="#ee1416"/>
<rect x="60.77" y="290.85" width="6.00" height="4.70" fill="#ee1416"/>
<rect x="0.65" y="295.77" width="6.00" height="4.70" fill="#ec23e8"/>
<rect x="7.33" y="295.77" width="6.00" height="4.70" fill="#7028f0"/>
<rect x="14.01" y="295.77" width="6.00" height="4.70" fill="#a82af0"/>
<rect x="20.69" y="295.77" width="6.00" height="4.70" fill="#4828f0"/>
<rect x="27.37" y="295.77" width="6.00" height="4.70" fill="#a82af0"/>
<rect x="34.05" y="295.77" width="6.00" height="4.70" fill="#ea1c76"/>
<rect x="40.73" y="295.77" width="6.00" height="4.70" fill="#ea162d"/>
<rect x="47.41" y="295.77" width="6.00" height="4.70" fill="#a82af0"/>
<rect x="54.09" y="295.77" width="6.00" height="4.70" fill="#ea162d"/>
<rect x="60.77" y="295.77" width="6.00" height="4.70" fill="#ea1c76"/>
<rect x="0.65" y="300.69" width="6.00" height="4.70" fill="#2024e8"/>
<rect x="7.33" y="300.69" width="6.00" height="4.70" fill="#2024e8"/>
<rect x="14.01" y="300.69" width="6.00" height="4.70" fill="#a82af0"/>
<rect x="20.69" y="300.69" width="6.00" height="4.70" fill="#4828f0"/>
<rect x="27.37" y="300.69" width="6.00" height="4.70" fill="#2024e8"/>
<rect x="34.05" y="300.69" width="6.00" height="4.70" fill="#ec23e8"/>
<rect x="40.73" y="300.69" width="6.00" height="4.70" fill="#ee20af"/>
<rect x="47.41" y="300.69" width="6.00" height="4.70" fill="#ee20af"/>
<rect x="54.09" y="300.69" width="6.00" height="4.70" fill="#a82af0"/>
<rect x="60.77" y="300.69" width="6.00" height="4.70" fill="#d428ee"/>
<rect x="0.65" y="305.61" width="6.00" height="4.70" fill="#4828f0"/>
<rect x="7.33" y="305.61" width="6.00" height="4.70" fill="#2024e8"/>
<rect x="14.01" y="305.61" width="6.00" height="4.70" fill="#4828f0"/>
<rect x="20.69" y="305.61" width="6.00" height="4.70" fill="#4828f0"/>
<rect x="27.37" y="305.61" width="6.00" height="4.70" fill="#a82af0"/>
<rect x="34.05" y="305.61" width="6.00" height="4.70" fill="#ec23e8"/>
<rect x="40.73" y="305.61" width="6.00" height="4.70" fill="#ec23e8"/>
<rect x="47.41" y="305.61" width="6.00" height="4.70" fill="#ec23e8"/>
<rect x="54.09" y="305.61" width="6.00" height="4.70" fill="#ec23e8"/>
<rect x="60.77" y="305.61" width="6.00" height="4.70" fill="#ec23e8"/>
<rect x="0.65" y="310.53" width="6.00" height="4.70" fill="#ec23e8"/>
<rect x="7.33" y="310.53" width="6.00" height="4.70" fill="#7028f0"/>
<rect x="14.01" y="310.53" width="6.00" height="4.70" fill="#d428ee"/>
<rect x="20.69" y="310.53" width="6.00" height="4.70" fill="#a82af0"/>
<rect x="27.37" y="310.53" width="6.00" height="4.70" fill="#2024e8"/>
<rect x="34.05" y="310.53" width="6.00" height="4.70" fill="#7028f0"/>
<rect x="40.73" y="310.53" width="6.00" height="4.70" fill="#ea1c76"/>
<rect x="47.41" y="310.53" width="6.00" height="4.70" fill="#ea162d"/>
<rect x="54.09" y="310.53" width="6.00" height="4.70" fill="#ec23e8"/>
<rect x="60.77" y="310.53" width="6.00" height="4.70" fill="#ea1c76"/>
<rect x="0.65" y="315.45" width="6.00" height="4.70" fill="#ec23e8"/>
<rect x="7.33" y="315.45" width="6.00" height="4.70" fill="#7028f0"/>
<rect x="14.01" y="315.45" width="6.00" height="4.70" fill="#d428ee"/>
<rect x="20.69" y="315.45" width="6.00" height="4.70" fill="#d428ee"/>
<rect x="27.37" y="315.45" width="6.00" height="4.70" fill="#2024e8"/>
<rect x="34.05" y="315.45" width="6.00" height="4.70" fill="#2024e8"/>
<rect x="40.73" y="315.45" width="6.00" height="4.70" fill="#ec23e8"/>
<rect x="47.41" y="315.45" width="6.00" height="4.70" fill="#ec23e8"/>
<rect x="54.09" y="315.45" width="6.00" height="4.70" fill="#ea1c76"/>
<rect x="60.77" y="315.45" width="6.00" height="4.70" fill="#ea1c76"/>
<rect x="0.65" y="320.37" width="6.00" height="4.70" fill="#7028f0"/>
<rect x="7.33" y="320.37" width="6.00" height="4.70" fill="#4828f0"/>
<rect x="14.01" y="320.37" width="6.00" height="4.70" fill="#7028f0"/>
<rect x="20.69" y="320.37" width="6.00" height="4.70" fill="#4828f0"/>
<rect x="27.37" y="320.37" width="6.00" height="4.70" fill="#a82af0"/>
<rect x="34.05" y="320.37" width="6.00" height="4.70" fill="#ec23e8"/>
<rect x="40.73" y="320.37" width="6.00" height="4.70" fill="#ee20af"/>
<rect x="47.41" y="320.37" width="6.00" height="4.70" fill="#ec23e8"/>
<rect x="54.09" y="320.37" width="6.00" height="4.70" fill="#ec23e8"/>
<rect x="60.77" y="320.37" width="6.00" height="4.70" fill="#ee20af"/>
<rect x="264.65" y="27.75" width="6.00" height="4.70" fill="#ea1c76"/>
<rect x="271.55" y="27.75" width="6.00" height="4.70" fill="#ee20af"/>
<rect x="278.45" y="27.75" width="6.00" height="4.70" fill="#ea162d"/>
<rect x="285.35" y="27.75" width="6.00" height="4.70" fill="#ee20af"/>
<rect x="292.25" y="27.75" width="6.00" height="4.70" fill="#ec23e8"/>
<rect x="299.15" y="27.75" width="6.00" height="4.70" fill="#4828f0"/>
<rect x="306.05" y="27.75" width="6.00" height="4.70" fill="#a82af0"/>
<rect x="312.95" y="27.75" width="6.00" height="4.70" fill="#a82af0"/>
<rect x="319.85" y="27.75" width="6.00" height="4.70" fill="#ec23e8"/>
<rect x="326.75" y="27.75" width="6.00" height="4.70" fill="#a82af0"/>
<rect x="264.65" y="33.07" width="6.00" height="4.70" fill="#ea1c76"/>
<rect x="271.55" y="33.07" width="6.00" height="4.70" fill="#ee20af"/>
<rect x="278.45" y="33.07" width="6.00" height="4.70" fill="#ea1c76"/>
<rect x="285.35" y="33.07" width="6.00" height="4.70" fill="#ec23e8"/>
<rect x="292.25" y="33.07" width="6.00" height="4.70" fill="#ec23e8"/>
<rect x="299.15" y="33.07" width="6.00" height="4.70" fill="#a82af0"/>
<rect x="306.05" y="33.07" width="6.00" height="4.70" fill="#2024e8"/>
<rect x="312.95" y="33.07" width="6.00" height="4.70" fill="#2024e8"/>
<rect x="319.85" y="33.07" width="6.00" height="4.70" fill="#2024e8"/>
<rect x="326.75" y="33.07" width="6.00" height="4.70" fill="#2024e8"/>
<rect x="264.65" y="38.39" width="6.00" height="4.70" fill="#ea162d"/>
<rect x="271.55" y="38.39" width="6.00" height="4.70" fill="#ec23e8"/>
<rect x="278.45" y="38.39" width="6.00" height="4.70" fill="#ea1c76"/>
<rect x="285.35" y="38.39" width="6.00" height="4.70" fill="#ea162d"/>
<rect x="292.25" y="38.39" width="6.00" height="4.70" fill="#a82af0"/>
<rect x="299.15" y="38.39" width="6.00" height="4.70" fill="#a82af0"/>
<rect x="306.05" y="38.39" width="6.00" height="4.70" fill="#2024e8"/>
<rect x="312.95" y="38.39" width="6.00" height="4.70" fill="#2024e8"/>
<rect x="319.85" y="38.39" width="6.00" height="4.70" fill="#ec23e8"/>
<rect x="326.75" y="38.39" width="6.00" height="4.70" fill="#d428ee"/>
<rect x="264.65" y="43.71" width="6.00" height="4.70" fill="#ee1416"/>
<rect x="271.55" y="43.71" width="6.00" height="4.70" fill="#ee1416"/>
<rect x="278.45" y="43.71" width="6.00" height="4.70" fill="#ee1416"/>
<rect x="285.35" y="43.71" width="6.00" height="4.70" fill="#ee1416"/>
<rect x="292.25" y="43.71" width="6.00" height="4.70" fill="#2024e8"/>
<rect x="299.15" y="43.71" width="6.00" height="4.70" fill="#4828f0"/>
<rect x="306.05" y="43.71" width="6.00" height="4.70" fill="#2024e8"/>
<rect x="312.95" y="43.71" width="6.00" height="4.70" fill="#2024e8"/>
<rect x="319.85" y="43.71" width="6.00" height="4.70" fill="#2024e8"/>
<rect x="326.75" y="43.71" width="6.00" height="4.70" fill="#2024e8"/>
<rect x="264.65" y="49.03" width="6.00" height="4.70" fill="#ee1416"/>
<rect x="271.55" y="49.03" width="6.00" height="4.70" fill="#ee1416"/>
<rect x="278.45" y="49.03" width="6.00" height="4.70" fill="#ee1416"/>
<rect x="285.35" y="49.03" width="6.00" height="4.70" fill="#ec23e8"/>
<rect x="292.25" y="49.03" width="6.00" height="4.70" fill="#2024e8"/>
<rect x="299.15" y="49.03" width="6.00" height="4.70" fill="#2024e8"/>
<rect x="306.05" y="49.03" width="6.00" height="4.70" fill="#2024e8"/>
<rect x="312.95" y="49.03" width="6.00" height="4.70" fill="#7028f0"/>
<rect x="319.85" y="49.03" width="6.00" height="4.70" fill="#2024e8"/>
<rect x="326.75" y="49.03" width="6.00" height="4.70" fill="#2024e8"/>
<rect x="264.65" y="54.35" width="6.00" height="4.70" fill="#ee1416"/>
<rect x="271.55" y="54.35" width="6.00" height="4.70" fill="#ee1416"/>
<rect x="278.45" y="54.35" width="6.00" height="4.70" fill="#ee1416"/>
<rect x="285.35" y="54.35" width="6.00" height="4.70" fill="#ea162d"/>
<rect x="292.25" y="54.35" width="6.00" height="4.70" fill="#2024e8"/>
<rect x="299.15" y="54.35" width="6.00" height="4.70" fill="#2024e8"/>
<rect x="306.05" y="54.35" width="6.00" height="4.70" fill="#2024e8"/>
<rect x="312.95" y="54.35" width="6.00" height="4.70" fill="#2024e8"/>
<rect x="319.85" y="54.35" width="6.00" height="4.70" fill="#7028f0"/>
<rect x="326.75" y="54.35" width="6.00" height="4.70" fill="#2024e8"/>
<rect x="264.65" y="59.67" width="6.00" height="4.70" fill="#ea162d"/>
<rect x="271.55" y="59.67" width="6.00" height="4.70" fill="#ec23e8"/>
<rect x="278.45" y="59.67" width="6.00" height="4.70" fill="#ea162d"/>
<rect x="285.35" y="59.67" width="6.00" height="4.70" fill="#ea1c76"/>
<rect x="292.25" y="59.67" width="6.00" height="4.70" fill="#2024e8"/>
<rect x="299.15" y="59.67" width="6.00" height="4.70" fill="#2024e8"/>
<rect x="306.05" y="59.67" width="6.00" height="4.70" fill="#7028f0"/>
<rect x="312.95" y="59.67" width="6.00" height="4.70" fill="#7028f0"/>
<rect x="319.85" y="59.67" width="6.00" height="4.70" fill="#ec23e8"/>
<rect x="326.75" y="59.67" width="6.00" height="4.70" fill="#7028f0"/>
<rect x="264.65" y="64.99" width="6.00" height="4.70" fill="#ea162d"/>
<rect x="271.55" y="64.99" width="6.00" height="4.70" fill="#ee20af"/>
<rect x="278.45" y="64.99" width="6.00" height="4.70" fill="#ea162d"/>
<rect x="285.35" y="64.99" width="6.00" height="4.70" fill="#ea1c76"/>
<rect x="292.25" y="64.99" width="6.00" height="4.70" fill="#2024e8"/>
<rect x="299.15" y="64.99" width="6.00" height="4.70" fill="#2024e8"/>
<rect x="306.05" y="64.99" width="6.00" height="4.70" fill="#4828f0"/>
<rect x="312.95" y="64.99" width="6.00" height="4.70" fill="#4828f0"/>
<rect x="319.85" y="64.99" width="6.00" height="4.70" fill="#d428ee"/>
<rect x="326.75" y="64.99" width="6.00" height="4.70" fill="#a82af0"/>
<rect x="264.65" y="70.31" width="6.00" height="4.70" fill="#ea162d"/>
<rect x="271.55" y="70.31" width="6.00" height="4.70" fill="#ea162d"/>
<rect x="278.45" y="70.31" width="6.00" height="4.70" fill="#ea162d"/>
<rect x="285.35" y="70.31" width="6.00" height="4.70" fill="#ea1c76"/>
<rect x="292.25" y="70.31" width="6.00" height="4.70" fill="#2024e8"/>
<rect x="299.15" y="70.31" width="6.00" height="4.70" fill="#7028f0"/>
<rect x="306.05" y="70.31" width="6.00" height="4.70" fill="#7028f0"/>
<rect x="312.95" y="70.31" width="6.00" height="4.70" fill="#7028f0"/>
<rect x="319.85" y="70.31" width="6.00" height="4.70" fill="#4828f0"/>
<rect x="326.75" y="70.31" width="6.00" height="4.70" fill="#4828f0"/>
<rect x="264.65" y="75.63" width="6.00" height="4.70" fill="#ea162d"/>
<rect x="271.55" y="75.63" width="6.00" height="4.70" fill="#ec23e8"/>
<rect x="278.45" y="75.63" width="6.00" height="4.70" fill="#ea162d"/>
<rect x="285.35" y="75.63" width="6.00" height="4.70" fill="#ea162d"/>
<rect x="292.25" y="75.63" width="6.00" height="4.70" fill="#2024e8"/>
<rect x="299.15" y="75.63" width="6.00" height="4.70" fill="#2024e8"/>
<rect x="306.05" y="75.63" width="6.00" height="4.70" fill="#ec23e8"/>
<rect x="312.95" y="75.63" width="6.00" height="4.70" fill="#ec23e8"/>
<rect x="319.85" y="75.63" width="6.00" height="4.70" fill="#4828f0"/>
<rect x="326.75" y="75.63" width="6.00" height="4.70" fill="#ec23e8"/>
<rect x="264.65" y="80.95" width="6.00" height="4.70" fill="#ea162d"/>
<rect x="271.55" y="80.95" width="6.00" height="4.70" fill="#ea162d"/>
<rect x="278.45" y="80.95" width="6.00" height="4.70" fill="#ee1416"/>
<rect x="285.35" y="80.95" width="6.00" height="4.70" fill="#ec23e8"/>
<rect x="292.25" y="80.95" width="6.00" height="4.70" fill="#2024e8"/>
<rect x="299.15" y="80.95" width="6.00" height="4.70" fill="#2024e8"/>
<rect x="306.05" y="80.95" width="6.00" height="4.70" fill="#ec23e8"/>
<rect x="312.95" y="80.95" width="6.00" height="4.70" fill="#ec23e8"/>
<rect x="319.85" y="80.95" width="6.00" height="4.70" fill="#ec23e8"/>
<rect x="326.75" y="80.95" width="6.00" height="4.70" fill="#ec23e8"/>
<rect x="264.65" y="86.27" width="6.00" height="4.70" fill="#ea162d"/>
<rect x="271.55" y="86.27" width="6.00" height="4.70" fill="#ee1416"/>
<rect x="278.45" y="86.27" width="6.00" height="4.70" fill="#ea162d"/>
<rect x="285.35" y="86.27" width="6.00" height="4.70" fill="#ea1c76"/>
<rect x="292.25" y="86.27" width="6.00" height="4.70" fill="#7028f0"/>
<rect x="299.15" y="86.27" width="6.00" height="4.70" fill="#2024e8"/>
<rect x="306.05" y="86.27" width="6.00" height="4.70" fill="#7028f0"/>
<rect x="312.95" y="86.27" width="6.00" height="4.70" fill="#4828f0"/>
<rect x="319.85" y="86.27" width="6.00" height="4.70" fill="#7028f0"/>
<rect x="326.75" y="86.27" width="6.00" height="4.70" fill="#7028f0"/>
<rect x="264.65" y="91.59" width="6.00" height="4.70" fill="#ee1416"/>
<rect x="271.55" y="91.59" width="6.00" height="4.70" fill="#ee20af"/>
<rect x="278.45" y="91.59" width="6.00" height="4.70" fill="#ea162d"/>
<rect x="285.35" y="91.59" width="6.00" height="4.70" fill="#ea1c76"/>
<rect x="292.25" y="91.59" width="6.00" height="4.70" fill="#2024e8"/>
<rect x="299.15" y="91.59" width="6.00" height="4.70" fill="#2024e8"/>
<rect x="306.05" y="91.59" width="6.00" height="4.70" fill="#7028f0"/>
<rect x="312.95" y="91.59" width="6.00" height="4.70" fill="#4828f0"/>
<rect x="319.85" y="91.59" width="6.00" height="4.70" fill="#4828f0"/>
<rect x="326.75" y="91.59" width="6.00" height="4.70" fill="#7028f0"/>
<rect x="264.65" y="96.91" width="6.00" height="4.70" fill="#ee20af"/>
<rect x="271.55" y="96.91" width="6.00" height="4.70" fill="#ee20af"/>
<rect x="278.45" y="96.91" width="6.00" height="4.70" fill="#ee20af"/>
<rect x="285.35" y="96.91" width="6.00" height="4.70" fill="#ee20af"/>
<rect x="292.25" y="96.91" width="6.00" height="4.70" fill="#2024e8"/>
<rect x="299.15" y="96.91" width="6.00" height="4.70" fill="#2024e8"/>
<rect x="306.05" y="96.91" width="6.00" height="4.70" fill="#d428ee"/>
<rect x="312.95" y="96.91" width="6.00" height="4.70" fill="#d428ee"/>
<rect x="319.85" y="96.91" width="6.00" height="4.70" fill="#4828f0"/>
<rect x="326.75" y="96.91" width="6.00" height="4.70" fill="#7028f0"/>
<rect x="264.65" y="102.23" width="6.00" height="4.70" fill="#ec23e8"/>
<rect x="271.55" y="102.23" width="6.00" height="4.70" fill="#ec23e8"/>
<rect x="278.45" y="102.23" width="6.00" height="4.70" fill="#ec23e8"/>
<rect x="285.35" y="102.23" width="6.00" height="4.70" fill="#ec23e8"/>
<rect x="292.25" y="102.23" width="6.00" height="4.70" fill="#2024e8"/>
<rect x="299.15" y="102.23" width="6.00" height="4.70" fill="#2024e8"/>
<rect x="306.05" y="102.23" width="6.00" height="4.70" fill="#4828f0"/>
<rect x="312.95" y="102.23" width="6.00" height="4.70" fill="#4828f0"/>
<rect x="319.85" y="102.23" width="6.00" height="4.70" fill="#2024e8"/>
<rect x="326.75" y="102.23" width="6.00" height="4.70" fill="#4828f0"/>
<rect x="264.65" y="115.15" width="6.00" height="4.70" fill="#ea162d"/>
<rect x="271.55" y="115.15" width="6.00" height="4.70" fill="#ee20af"/>
<rect x="278.45" y="115.15" width="6.00" height="4.70" fill="#ea1c76"/>
<rect x="285.35" y="115.15" width="6.00" height="4.70" fill="#ec23e8"/>
<rect x="292.25" y="115.15" width="6.00" height="4.70" fill="#2024e8"/>
<rect x="299.15" y="115.15" width="6.00" height="4.70" fill="#2024e8"/>
<rect x="306.05" y="115.15" width="6.00" height="4.70" fill="#ec23e8"/>
<rect x="312.95" y="115.15" width="6.00" height="4.70" fill="#ec23e8"/>
<rect x="319.85" y="115.15" width="6.00" height="4.70" fill="#ec23e8"/>
<rect x="326.75" y="115.15" width="6.00" height="4.70" fill="#ec23e8"/>
<rect x="264.65" y="120.53" width="6.00" height="4.70" fill="#d428ee"/>
<rect x="271.55" y="120.53" width="6.00" height="4.70" fill="#ee20af"/>
<rect x="278.45" y="120.53" width="6.00" height="4.70" fill="#ec23e8"/>
<rect x="285.35" y="120.53" width="6.00" height="4.70" fill="#ee20af"/>
<rect x="292.25" y="120.53" width="6.00" height="4.70" fill="#2024e8"/>
<rect x="299.15" y="120.53" width="6.00" height="4.70" fill="#2024e8"/>
<rect x="306.05" y="120.53" width="6.00" height="4.70" fill="#7028f0"/>
<rect x="312.95" y="120.53" width="6.00" height="4.70" fill="#4828f0"/>
<rect x="319.85" y="120.53" width="6.00" height="4.70" fill="#d428ee"/>
<rect x="326.75" y="120.53" width="6.00" height="4.70" fill="#4828f0"/>
<rect x="264.65" y="125.91" width="6.00" height="4.70" fill="#ec23e8"/>
<rect x="271.55" y="125.91" width="6.00" height="4.70" fill="#ee1416"/>
<rect x="278.45" y="125.91" width="6.00" height="4.70" fill="#ec23e8"/>
<rect x="285.35" y="125.91" width="6.00" height="4.70" fill="#ec23e8"/>
<rect x="292.25" y="125.91" width="6.00" height="4.70" fill="#2024e8"/>
<rect x="299.15" y="125.91" width="6.00" height="4.70" fill="#2024e8"/>
<rect x="306.05" y="125.91" width="6.00" height="4.70" fill="#d428ee"/>
<rect x="312.95" y="125.91" width="6.00" height="4.70" fill="#ec23e8"/>
<rect x="319.85" y="125.91" width="6.00" height="4.70" fill="#ec23e8"/>
<rect x="326.75" y="125.91" width="6.00" height="4.70" fill="#d428ee"/>
<rect x="264.65" y="131.29" width="6.00" height="4.70" fill="#ec23e8"/>
<rect x="271.55" y="131.29" width="6.00" height="4.70" fill="#ee1416"/>
<rect x="278.45" y="131.29" width="6.00" height="4.70" fill="#ec23e8"/>
<rect x="285.35" y="131.29" width="6.00" height="4.70" fill="#ec23e8"/>
<rect x="292.25" y="131.29" width="6.00" height="4.70" fill="#2024e8"/>
<rect x="299.15" y="131.29" width="6.00" height="4.70" fill="#2024e8"/>
<rect x="306.05" y="131.29" width="6.00" height="4.70" fill="#ec23e8"/>
<rect x="312.95" y="131.29" width="6.00" height="4.70" fill="#ec23e8"/>
<rect x="319.85" y="131.29" width="6.00" height="4.70" fill="#ec23e8"/>
<rect x="326.75" y="131.29" width="6.00" height="4.70" fill="#ec23e8"/>
<rect x="264.65" y="136.67" width="6.00" height="4.70" fill="#ec23e8"/>
<rect x="271.55" y="136.67" width="6.00" height="4.70" fill="#ee1416"/>
<rect x="278.45" y="136.67" width="6.00" height="4.70" fill="#ec23e8"/>
<rect x="285.35" y="136.67" width="6.00" height="4.70" fill="#ec23e8"/>
<rect x="292.25" y="136.67" width="6.00" height="4.70" fill="#2024e8"/>
<rect x="299.15" y="136.67" width="6.00" height="4.70" fill="#2024e8"/>
<rect x="306.05" y="136.67" width="6.00" height="4.70" fill="#ec23e8"/>
<rect x="312.95" y="136.67" width="6.00" height="4.70" fill="#ec23e8"/>
<rect x="319.85" y="136.67" width="6.00" height="4.70" fill="#ec23e8"/>
<rect x="326.75" y="136.67" width="6.00" height="4.70" fill="#ec23e8"/>
<rect x="264.65" y="142.05" width="6.00" height="4.70" fill="#ea162d"/>
<rect x="271.55" y="142.05" width="6.00" height="4.70" fill="#d428ee"/>
<rect x="278.45" y="142.05" width="6.00" height="4.70" fill="#ea162d"/>
<rect x="285.35" y="142.05" width="6.00" height="4.70" fill="#ea162d"/>
<rect x="292.25" y="142.05" width="6.00" height="4.70" fill="#4828f0"/>
<rect x="299.15" y="142.05" width="6.00" height="4.70" fill="#2024e8"/>
<rect x="306.05" y="142.05" width="6.00" height="4.70" fill="#ec23e8"/>
<rect x="312.95" y="142.05" width="6.00" height="4.70" fill="#ec23e8"/>
<rect x="319.85" y="142.05" width="6.00" height="4.70" fill="#ec23e8"/>
<rect x="326.75" y="142.05" width="6.00" height="4.70" fill="#ec23e8"/>
<rect x="264.65" y="147.43" width="6.00" height="4.70" fill="#ec23e8"/>
<rect x="271.55" y="147.43" width="6.00" height="4.70" fill="#ec23e8"/>
<rect x="278.45" y="147.43" width="6.00" height="4.70" fill="#ea1c76"/>
<rect x="285.35" y="147.43" width="6.00" height="4.70" fill="#ec23e8"/>
<rect x="292.25" y="147.43" width="6.00" height="4.70" fill="#2024e8"/>
<rect x="299.15" y="147.43" width="6.00" height="4.70" fill="#2024e8"/>
<rect x="306.05" y="147.43" width="6.00" height="4.70" fill="#ec23e8"/>
<rect x="312.95" y="147.43" width="6.00" height="4.70" fill="#ec23e8"/>
<rect x="319.85" y="147.43" width="6.00" height="4.70" fill="#ec23e8"/>
<rect x="326.75" y="147.43" width="6.00" height="4.70" fill="#ec23e8"/>
<rect x="264.65" y="152.81" width="6.00" height="4.70" fill="#ec23e8"/>
<rect x="271.55" y="152.81" width="6.00" height="4.70" fill="#ee1416"/>
<rect x="278.45" y="152.81" width="6.00" height="4.70" fill="#ea1c76"/>
<rect x="285.35" y="152.81" width="6.00" height="4.70" fill="#ea1c76"/>
<rect x="292.25" y="152.81" width="6.00" height="4.70" fill="#2024e8"/>
<rect x="299.15" y="152.81" width="6.00" height="4.70" fill="#2024e8"/>
<rect x="306.05" y="152.81" width="6.00" height="4.70" fill="#ec23e8"/>
<rect x="312.95" y="152.81" width="6.00" height="4.70" fill="#ec23e8"/>
<rect x="319.85" y="152.81" width="6.00" height="4.70" fill="#ec23e8"/>
<rect x="326.75" y="152.81" width="6.00" height="4.70" fill="#d428ee"/>
<rect x="264.65" y="158.19" width="6.00" height="4.70" fill="#ea162d"/>
<rect x="271.55" y="158.19" width="6.00" height="4.70" fill="#ec23e8"/>
<rect x="278.45" y="158.19" width="6.00" height="4.70" fill="#ec23e8"/>
<rect x="285.35" y="158.19" width="6.00" height="4.70" fill="#ea162d"/>
<rect x="292.25" y="158.19" width="6.00" height="4.70" fill="#2024e8"/>
<rect x="299.15" y="158.19" width="6.00" height="4.70" fill="#2024e8"/>
<rect x="306.05" y="158.19" width="6.00" height="4.70" fill="#ee1416"/>
<rect x="312.95" y="158.19" width="6.00" height="4.70" fill="#ee1416"/>
<rect x="319.85" y="158.19" width="6.00" height="4.70" fill="#d428ee"/>
<rect x="326.75" y="158.19" width="6.00" height="4.70" fill="#d428ee"/>
<rect x="264.65" y="163.57" width="6.00" height="4.70" fill="#ea162d"/>
<rect x="271.55" y="163.57" width="6.00" height="4.70" fill="#ea162d"/>
<rect x="278.45" y="163.57" width="6.00" height="4.70" fill="#ec23e8"/>
<rect x="285.35" y="163.57" width="6.00" height="4.70" fill="#ec23e8"/>
<rect x="292.25" y="163.57" width="6.00" height="4.70" fill="#2024e8"/>
<rect x="299.15" y="163.57" width="6.00" height="4.70" fill="#2024e8"/>
<rect x="306.05" y="163.57" width="6.00" height="4.70" fill="#ee1416"/>
<rect x="312.95" y="163.57" width="6.00" height="4.70" fill="#ee1416"/>
<rect x="319.85" y="163.57" width="6.00" height="4.70" fill="#ee1416"/>
<rect x="326.75" y="163.57" width="6.00" height="4.70" fill="#ee1416"/>
<rect x="264.65" y="168.95" width="6.00" height="4.70" fill="#ec23e8"/>
<rect x="271.55" y="168.95" width="6.00" height="4.70" fill="#ec23e8"/>
<rect x="278.45" y="168.95" width="6.00" height="4.70" fill="#ea162d"/>
<rect x="285.35" y="168.95" width="6.00" height="4.70" fill="#ea162d"/>
<rect x="292.25" y="168.95" width="6.00" height="4.70" fill="#2024e8"/>
<rect x="299.15" y="168.95" width="6.00" height="4.70" fill="#2024e8"/>
<rect x="306.05" y="168.95" width="6.00" height="4.70" fill="#ec23e8"/>
<rect x="312.95" y="168.95" width="6.00" height="4.70" fill="#ec23e8"/>
<rect x="319.85" y="168.95" width="6.00" height="4.70" fill="#ec23e8"/>
<rect x="326.75" y="168.95" width="6.00" height="4.70" fill="#d428ee"/>
<rect x="264.65" y="174.33" width="6.00" height="4.70" fill="#ec23e8"/>
<rect x="271.55" y="174.33" width="6.00" height="4.70" fill="#ea162d"/>
<rect x="278.45" y="174.33" width="6.00" height="4.70" fill="#ec23e8"/>
<rect x="285.35" y="174.33" width="6.00" height="4.70" fill="#ec23e8"/>
<rect x="292.25" y="174.33" width="6.00" height="4.70" fill="#2024e8"/>
<rect x="299.15" y="174.33" width="6.00" height="4.70" fill="#2024e8"/>
<rect x="306.05" y="174.33" width="6.00" height="4.70" fill="#4828f0"/>
<rect x="312.95" y="174.33" width="6.00" height="4.70" fill="#7028f0"/>
<rect x="319.85" y="174.33" width="6.00" height="4.70" fill="#2024e8"/>
<rect x="326.75" y="174.33" width="6.00" height="4.70" fill="#4828f0"/>
<rect x="264.65" y="179.71" width="6.00" height="4.70" fill="#ea162d"/>
<rect x="271.55" y="179.71" width="6.00" height="4.70" fill="#d428ee"/>
<rect x="278.45" y="179.71" width="6.00" height="4.70" fill="#ea162d"/>
<rect x="285.35" y="179.71" width="6.00" height="4.70" fill="#ea162d"/>
<rect x="292.25" y="179.71" width="6.00" height="4.70" fill="#2024e8"/>
<rect x="299.15" y="179.71" width="6.00" height="4.70" fill="#2024e8"/>
<rect x="306.05" y="179.71" width="6.00" height="4.70" fill="#ec23e8"/>
<rect x="312.95" y="179.71" width="6.00" height="4.70" fill="#2024e8"/>
<rect x="319.85" y="179.71" width="6.00" height="4.70" fill="#ec23e8"/>
<rect x="326.75" y="179.71" width="6.00" height="4.70" fill="#4828f0"/>
<rect x="264.65" y="185.09" width="6.00" height="4.70" fill="#ea162d"/>
<rect x="271.55" y="185.09" width="6.00" height="4.70" fill="#ea162d"/>
<rect x="278.45" y="185.09" width="6.00" height="4.70" fill="#ea162d"/>
<rect x="285.35" y="185.09" width="6.00" height="4.70" fill="#ec23e8"/>
<rect x="292.25" y="185.09" width="6.00" height="4.70" fill="#2024e8"/>
<rect x="299.15" y="185.09" width="6.00" height="4.70" fill="#2024e8"/>
<rect x="306.05" y="185.09" width="6.00" height="4.70" fill="#ec23e8"/>
<rect x="312.95" y="185.09" width="6.00" height="4.70" fill="#ec23e8"/>
<rect x="319.85" y="185.09" width="6.00" height="4.70" fill="#ec23e8"/>
<rect x="326.75" y="185.09" width="6.00" height="4.70" fill="#ec23e8"/>
<rect x="264.65" y="190.47" width="6.00" height="4.70" fill="#ea162d"/>
<rect x="271.55" y="190.47" width="6.00" height="4.70" fill="#d428ee"/>
<rect x="278.45" y="190.47" width="6.00" height="4.70" fill="#ea162d"/>
<rect x="285.35" y="190.47" width="6.00" height="4.70" fill="#ea162d"/>
<rect x="292.25" y="190.47" width="6.00" height="4.70" fill="#2024e8"/>
<rect x="299.15" y="190.47" width="6.00" height="4.70" fill="#2024e8"/>
<rect x="306.05" y="190.47" width="6.00" height="4.70" fill="#ec23e8"/>
<rect x="312.95" y="190.47" width="6.00" height="4.70" fill="#ec23e8"/>
<rect x="319.85" y="190.47" width="6.00" height="4.70" fill="#ec23e8"/>
<rect x="326.75" y="190.47" width="6.00" height="4.70" fill="#2024e8"/>
<rect x="264.65" y="195.85" width="6.00" height="4.70" fill="#ea162d"/>
<rect x="271.55" y="195.85" width="6.00" height="4.70" fill="#ec23e8"/>
<rect x="278.45" y="195.85" width="6.00" height="4.70" fill="#ec23e8"/>
<rect x="285.35" y="195.85" width="6.00" height="4.70" fill="#ee1416"/>
<rect x="292.25" y="195.85" width="6.00" height="4.70" fill="#2024e8"/>
<rect x="299.15" y="195.85" width="6.00" height="4.70" fill="#2024e8"/>
<rect x="306.05" y="195.85" width="6.00" height="4.70" fill="#ec23e8"/>
<rect x="312.95" y="195.85" width="6.00" height="4.70" fill="#2024e8"/>
<rect x="319.85" y="195.85" width="6.00" height="4.70" fill="#ec23e8"/>
<rect x="326.75" y="195.85" width="6.00" height="4.70" fill="#ec23e8"/>
<rect x="264.65" y="201.23" width="6.00" height="4.70" fill="#ec23e8"/>
<rect x="271.55" y="201.23" width="6.00" height="4.70" fill="#ee1416"/>
<rect x="278.45" y="201.23" width="6.00" height="4.70" fill="#ea162d"/>
<rect x="285.35" y="201.23" width="6.00" height="4.70" fill="#ea162d"/>
<rect x="292.25" y="201.23" width="6.00" height="4.70" fill="#2024e8"/>
<rect x="299.15" y="201.23" width="6.00" height="4.70" fill="#2024e8"/>
<rect x="306.05" y="201.23" width="6.00" height="4.70" fill="#ec23e8"/>
<rect x="312.95" y="201.23" width="6.00" height="4.70" fill="#ec23e8"/>
<rect x="319.85" y="201.23" width="6.00" height="4.70" fill="#ec23e8"/>
<rect x="326.75" y="201.23" width="6.00" height="4.70" fill="#ec23e8"/>
<rect x="264.65" y="206.61" width="6.00" height="4.70" fill="#ec23e8"/>
<rect x="271.55" y="206.61" width="6.00" height="4.70" fill="#ec23e8"/>
<rect x="278.45" y="206.61" width="6.00" height="4.70" fill="#ea162d"/>
<rect x="285.35" y="206.61" width="6.00" height="4.70" fill="#ec23e8"/>
<rect x="292.25" y="206.61" width="6.00" height="4.70" fill="#2024e8"/>
<rect x="299.15" y="206.61" width="6.00" height="4.70" fill="#2024e8"/>
<rect x="306.05" y="206.61" width="6.00" height="4.70" fill="#ec23e8"/>
<rect x="312.95" y="206.61" width="6.00" height="4.70" fill="#ec23e8"/>
<rect x="319.85" y="206.61" width="6.00" height="4.70" fill="#ec23e8"/>
<rect x="326.75" y="206.61" width="6.00" height="4.70" fill="#ec23e8"/>
<rect x="264.65" y="211.99" width="6.00" height="4.70" fill="#ea162d"/>
<rect x="271.55" y="211.99" width="6.00" height="4.70" fill="#ec23e8"/>
<rect x="278.45" y="211.99" width="6.00" height="4.70" fill="#ec23e8"/>
<rect x="285.35" y="211.99" width="6.00" height="4.70" fill="#ee20af"/>
<rect x="292.25" y="211.99" width="6.00" height="4.70" fill="#2024e8"/>
<rect x="299.15" y="211.99" width="6.00" height="4.70" fill="#2024e8"/>
<rect x="306.05" y="211.99" width="6.00" height="4.70" fill="#d428ee"/>
<rect x="312.95" y="211.99" width="6.00" height="4.70" fill="#7028f0"/>
<rect x="319.85" y="211.99" width="6.00" height="4.70" fill="#ec23e8"/>
<rect x="326.75" y="211.99" width="6.00" height="4.70" fill="#ec23e8"/>
<rect x="264.65" y="217.37" width="6.00" height="4.70" fill="#ec23e8"/>
<rect x="271.55" y="217.37" width="6.00" height="4.70" fill="#ec23e8"/>
<rect x="278.45" y="217.37" width="6.00" height="4.70" fill="#ea162d"/>
<rect x="285.35" y="217.37" width="6.00" height="4.70" fill="#ee20af"/>
<rect x="292.25" y="217.37" width="6.00" height="4.70" fill="#2024e8"/>
<rect x="299.15" y="217.37" width="6.00" height="4.70" fill="#2024e8"/>
<rect x="306.05" y="217.37" width="6.00" height="4.70" fill="#ea1c76"/>
<rect x="312.95" y="217.37" width="6.00" height="4.70" fill="#ee20af"/>
<rect x="319.85" y="217.37" width="6.00" height="4.70" fill="#ea1c76"/>
<rect x="326.75" y="217.37" width="6.00" height="4.70" fill="#ee20af"/>
<rect x="264.65" y="222.75" width="6.00" height="4.70" fill="#ea162d"/>
<rect x="271.55" y="222.75" width="6.00" height="4.70" fill="#ec23e8"/>
<rect x="278.45" y="222.75" width="6.00" height="4.70" fill="#ec23e8"/>
<rect x="285.35" y="222.75" width="6.00" height="4.70" fill="#ec23e8"/>
<rect x="292.25" y="222.75" width="6.00" height="4.70" fill="#2024e8"/>
<rect x="299.15" y="222.75" width="6.00" height="4.70" fill="#2024e8"/>
<rect x="306.05" y="222.75" width="6.00" height="4.70" fill="#ea162d"/>
<rect x="312.95" y="222.75" width="6.00" height="4.70" fill="#ea162d"/>
<rect x="319.85" y="222.75" width="6.00" height="4.70" fill="#ea162d"/>
<rect x="326.75" y="222.75" width="6.00" height="4.70" fill="#ea1c76"/>
<rect x="264.65" y="228.13" width="6.00" height="4.70" fill="#ea162d"/>
<rect x="271.55" y="228.13" width="6.00" height="4.70" fill="#ea162d"/>
<rect x="278.45" y="228.13" width="6.00" height="4.70" fill="#ec23e8"/>
<rect x="285.35" y="228.13" width="6.00" height="4.70" fill="#ee20af"/>
<rect x="292.25" y="228.13" width="6.00" height="4.70" fill="#2024e8"/>
<rect x="299.15" y="228.13" width="6.00" height="4.70" fill="#2024e8"/>
<rect x="306.05" y="228.13" width="6.00" height="4.70" fill="#ec23e8"/>
<rect x="312.95" y="228.13" width="6.00" height="4.70" fill="#ec23e8"/>
<rect x="319.85" y="228.13" width="6.00" height="4.70" fill="#ee20af"/>
<rect x="326.75" y="228.13" width="6.00" height="4.70" fill="#ee20af"/>
<rect x="264.65" y="233.51" width="6.00" height="4.70" fill="#ea162d"/>
<rect x="271.55" y="233.51" width="6.00" height="4.70" fill="#ec23e8"/>
<rect x="278.45" y="233.51" width="6.00" height="4.70" fill="#ec23e8"/>
<rect x="285.35" y="233.51" width="6.00" height="4.70" fill="#ec23e8"/>
<rect x="292.25" y="233.51" width="6.00" height="4.70" fill="#2024e8"/>
<rect x="299.15" y="233.51" width="6.00" height="4.70" fill="#2024e8"/>
<rect x="306.05" y="233.51" width="6.00" height="4.70" fill="#ec23e8"/>
<rect x="312.95" y="233.51" width="6.00" height="4.70" fill="#ec23e8"/>
<rect x="319.85" y="233.51" width="6.00" height="4.70" fill="#ee20af"/>
<rect x="326.75" y="233.51" width="6.00" height="4.70" fill="#ee20af"/>
<rect x="264.65" y="238.89" width="6.00" height="4.70" fill="#ee20af"/>
<rect x="271.55" y="238.89" width="6.00" height="4.70" fill="#ee20af"/>
<rect x="278.45" y="238.89" width="6.00" height="4.70" fill="#ea162d"/>
<rect x="285.35" y="238.89" width="6.00" height="4.70" fill="#ec23e8"/>
<rect x="292.25" y="238.89" width="6.00" height="4.70" fill="#2024e8"/>
<rect x="299.15" y="238.89" width="6.00" height="4.70" fill="#2024e8"/>
<rect x="306.05" y="238.89" width="6.00" height="4.70" fill="#ee1416"/>
<rect x="312.95" y="238.89" width="6.00" height="4.70" fill="#ec23e8"/>
<rect x="319.85" y="238.89" width="6.00" height="4.70" fill="#ec23e8"/>
<rect x="326.75" y="238.89" width="6.00" height="4.70" fill="#ea162d"/>
<rect x="264.65" y="244.27" width="6.00" height="4.70" fill="#ee20af"/>
<rect x="271.55" y="244.27" width="6.00" height="4.70" fill="#ea162d"/>
<rect x="278.45" y="244.27" width="6.00" height="4.70" fill="#ea162d"/>
<rect x="285.35" y="244.27" width="6.00" height="4.70" fill="#ea162d"/>
<rect x="292.25" y="244.27" width="6.00" height="4.70" fill="#2024e8"/>
<rect x="299.15" y="244.27" width="6.00" height="4.70" fill="#2024e8"/>
<rect x="306.05" y="244.27" width="6.00" height="4.70" fill="#ee20af"/>
<rect x="312.95" y="244.27" width="6.00" height="4.70" fill="#ee20af"/>
<rect x="319.85" y="244.27" width="6.00" height="4.70" fill="#ee20af"/>
<rect x="326.75" y="244.27" width="6.00" height="4.70" fill="#ee20af"/>
<rect x="264.65" y="249.65" width="6.00" height="4.70" fill="#ea162d"/>
<rect x="271.55" y="249.65" width="6.00" height="4.70" fill="#ea162d"/>
<rect x="278.45" y="249.65" width="6.00" height="4.70" fill="#ec23e8"/>
<rect x="285.35" y="249.65" width="6.00" height="4.70" fill="#ea162d"/>
<rect x="292.25" y="249.65" width="6.00" height="4.70" fill="#2024e8"/>
<rect x="299.15" y="249.65" width="6.00" height="4.70" fill="#2024e8"/>
<rect x="306.05" y="249.65" width="6.00" height="4.70" fill="#ec23e8"/>
<rect x="312.95" y="249.65" width="6.00" height="4.70" fill="#7028f0"/>
<rect x="319.85" y="249.65" width="6.00" height="4.70" fill="#a82af0"/>
<rect x="326.75" y="249.65" width="6.00" height="4.70" fill="#ec23e8"/>
<rect x="264.65" y="262.55" width="6.00" height="4.70" fill="#d428ee"/>
<rect x="271.55" y="262.55" width="6.00" height="4.70" fill="#ec23e8"/>
<rect x="278.45" y="262.55" width="6.00" height="4.70" fill="#7028f0"/>
<rect x="285.35" y="262.55" width="6.00" height="4.70" fill="#ec23e8"/>
<rect x="292.25" y="262.55" width="6.00" height="4.70" fill="#d428ee"/>
<rect x="299.15" y="262.55" width="6.00" height="4.70" fill="#ee1416"/>
<rect x="306.05" y="262.55" width="6.00" height="4.70" fill="#2024e8"/>
<rect x="312.95" y="262.55" width="6.00" height="4.70" fill="#d428ee"/>
<rect x="319.85" y="262.55" width="6.00" height="4.70" fill="#2024e8"/>
<rect x="326.75" y="262.55" width="6.00" height="4.70" fill="#2024e8"/>
<rect x="264.65" y="267.95" width="6.00" height="4.70" fill="#ec23e8"/>
<rect x="271.55" y="267.95" width="6.00" height="4.70" fill="#ee1416"/>
<rect x="278.45" y="267.95" width="6.00" height="4.70" fill="#ec23e8"/>
<rect x="285.35" y="267.95" width="6.00" height="4.70" fill="#ec23e8"/>
<rect x="292.25" y="267.95" width="6.00" height="4.70" fill="#7028f0"/>
<rect x="299.15" y="267.95" width="6.00" height="4.70" fill="#ee20af"/>
<rect x="306.05" y="267.95" width="6.00" height="4.70" fill="#2024e8"/>
<rect x="312.95" y="267.95" width="6.00" height="4.70" fill="#2024e8"/>
<rect x="319.85" y="267.95" width="6.00" height="4.70" fill="#ec23e8"/>
<rect x="326.75" y="267.95" width="6.00" height="4.70" fill="#4828f0"/>
<rect x="264.65" y="273.35" width="6.00" height="4.70" fill="#ec23e8"/>
<rect x="271.55" y="273.35" width="6.00" height="4.70" fill="#ec23e8"/>
<rect x="278.45" y="273.35" width="6.00" height="4.70" fill="#ec23e8"/>
<rect x="285.35" y="273.35" width="6.00" height="4.70" fill="#ee20af"/>
<rect x="292.25" y="273.35" width="6.00" height="4.70" fill="#2024e8"/>
<rect x="299.15" y="273.35" width="6.00" height="4.70" fill="#ea1c76"/>
<rect x="306.05" y="273.35" width="6.00" height="4.70" fill="#2024e8"/>
<rect x="312.95" y="273.35" width="6.00" height="4.70" fill="#d428ee"/>
<rect x="319.85" y="273.35" width="6.00" height="4.70" fill="#2024e8"/>
<rect x="326.75" y="273.35" width="6.00" height="4.70" fill="#4828f0"/>
<rect x="264.65" y="278.75" width="6.00" height="4.70" fill="#ec23e8"/>
<rect x="271.55" y="278.75" width="6.00" height="4.70" fill="#ee20af"/>
<rect x="278.45" y="278.75" width="6.00" height="4.70" fill="#ec23e8"/>
<rect x="285.35" y="278.75" width="6.00" height="4.70" fill="#ee1416"/>
<rect x="292.25" y="278.75" width="6.00" height="4.70" fill="#2024e8"/>
<rect x="299.15" y="278.75" width="6.00" height="4.70" fill="#ee20af"/>
<rect x="306.05" y="278.75" width="6.00" height="4.70" fill="#ee20af"/>
<rect x="312.95" y="278.75" width="6.00" height="4.70" fill="#4828f0"/>
<rect x="319.85" y="278.75" width="6.00" height="4.70" fill="#ee20af"/>
<rect x="326.75" y="278.75" width="6.00" height="4.70" fill="#4828f0"/>
<rect x="264.65" y="284.15" width="6.00" height="4.70" fill="#ec23e8"/>
<rect x="271.55" y="284.15" width="6.00" height="4.70" fill="#ea162d"/>
<rect x="278.45" y="284.15" width="6.00" height="4.70" fill="#ec23e8"/>
<rect x="285.35" y="284.15" width="6.00" height="4.70" fill="#ec23e8"/>
<rect x="292.25" y="284.15" width="6.00" height="4.70" fill="#2024e8"/>
<rect x="299.15" y="284.15" width="6.00" height="4.70" fill="#ea162d"/>
<rect x="306.05" y="284.15" width="6.00" height="4.70" fill="#2024e8"/>
<rect x="312.95" y="284.15" width="6.00" height="4.70" fill="#4828f0"/>
<rect x="319.85" y="284.15" width="6.00" height="4.70" fill="#2024e8"/>
<rect x="326.75" y="284.15" width="6.00" height="4.70" fill="#4828f0"/>
<rect x="264.65" y="289.55" width="6.00" height="4.70" fill="#ec23e8"/>
<rect x="271.55" y="289.55" width="6.00" height="4.70" fill="#ec23e8"/>
<rect x="278.45" y="289.55" width="6.00" height="4.70" fill="#d428ee"/>
<rect x="285.35" y="289.55" width="6.00" height="4.70" fill="#ee20af"/>
<rect x="292.25" y="289.55" width="6.00" height="4.70" fill="#ec23e8"/>
<rect x="299.15" y="289.55" width="6.00" height="4.70" fill="#ec23e8"/>
<rect x="306.05" y="289.55" width="6.00" height="4.70" fill="#4828f0"/>
<rect x="312.95" y="289.55" width="6.00" height="4.70" fill="#2024e8"/>
<rect x="319.85" y="289.55" width="6.00" height="4.70" fill="#ea1c76"/>
<rect x="326.75" y="289.55" width="6.00" height="4.70" fill="#ea1c76"/>
<rect x="264.65" y="294.95" width="6.00" height="4.70" fill="#ec23e8"/>
<rect x="271.55" y="294.95" width="6.00" height="4.70" fill="#ec23e8"/>
<rect x="278.45" y="294.95" width="6.00" height="4.70" fill="#7028f0"/>
<rect x="285.35" y="294.95" width="6.00" height="4.70" fill="#ee20af"/>
<rect x="292.25" y="294.95" width="6.00" height="4.70" fill="#ec23e8"/>
<rect x="299.15" y="294.95" width="6.00" height="4.70" fill="#ec23e8"/>
<rect x="306.05" y="294.95" width="6.00" height="4.70" fill="#2024e8"/>
<rect x="312.95" y="294.95" width="6.00" height="4.70" fill="#d428ee"/>
<rect x="319.85" y="294.95" width="6.00" height="4.70" fill="#2024e8"/>
<rect x="326.75" y="294.95" width="6.00" height="4.70" fill="#2024e8"/>
<rect x="264.65" y="300.35" width="6.00" height="4.70" fill="#ec23e8"/>
<rect x="271.55" y="300.35" width="6.00" height="4.70" fill="#ee1416"/>
<rect x="278.45" y="300.35" width="6.00" height="4.70" fill="#ec23e8"/>
<rect x="285.35" y="300.35" width="6.00" height="4.70" fill="#ee1416"/>
<rect x="292.25" y="300.35" width="6.00" height="4.70" fill="#a82af0"/>
<rect x="299.15" y="300.35" width="6.00" height="4.70" fill="#ec23e8"/>
<rect x="306.05" y="300.35" width="6.00" height="4.70" fill="#4828f0"/>
<rect x="312.95" y="300.35" width="6.00" height="4.70" fill="#a82af0"/>
<rect x="319.85" y="300.35" width="6.00" height="4.70" fill="#2024e8"/>
<rect x="326.75" y="300.35" width="6.00" height="4.70" fill="#4828f0"/>
<rect x="264.65" y="305.75" width="6.00" height="4.70" fill="#d428ee"/>
<rect x="271.55" y="305.75" width="6.00" height="4.70" fill="#ec23e8"/>
<rect x="278.45" y="305.75" width="6.00" height="4.70" fill="#d428ee"/>
<rect x="285.35" y="305.75" width="6.00" height="4.70" fill="#ec23e8"/>
<rect x="292.25" y="305.75" width="6.00" height="4.70" fill="#d428ee"/>
<rect x="299.15" y="305.75" width="6.00" height="4.70" fill="#ec23e8"/>
<rect x="306.05" y="305.75" width="6.00" height="4.70" fill="#4828f0"/>
<rect x="312.95" y="305.75" width="6.00" height="4.70" fill="#7028f0"/>
<rect x="319.85" y="305.75" width="6.00" height="4.70" fill="#4828f0"/>
<rect x="326.75" y="305.75" width="6.00" height="4.70" fill="#4828f0"/></g>
<g filter="url(#bt)"><text x="0" y="0" font-size="11.2" font-weight="bold" fill="#000" transform="translate(0.20,8.8) scale(1.18,1)">A</text>
<text x="80.20" y="14.00" font-size="4.95" font-weight="bold" text-anchor="middle" fill="#000" stroke="#000" stroke-width="0.08">Accession</text>
<text x="80.20" y="18.90" font-size="4.95" font-weight="bold" text-anchor="middle" fill="#000" stroke="#000" stroke-width="0.08">number</text>
<text x="105.50" y="18.90" font-size="4.95" font-weight="bold" fill="#000" stroke="#000" stroke-width="0.08">Gene</text>
<text x="141.90" y="18.90" font-size="4.8" font-weight="bold" fill="#000" stroke="#000" stroke-width="0.08">Entrez definition</text>
<text x="69.40" y="26.00" font-size="4.15" font-weight="bold" fill="#000" stroke="#000" stroke-width="0.22">Genes up-regulated in both monosomy 7 and trisomy 8</text>
<text x="69.80" y="31.30" font-size="3.6" fill="#000" stroke="#000" stroke-width="0.13">U51587</text>
<text x="105.30" y="31.30" font-size="3.6" fill="#000" stroke="#000" stroke-width="0.13">GOLGA1</text>
<text x="141.50" y="31.30" font-size="3.6" fill="#000" stroke="#000" stroke-width="0.13">Golgi autoantigen</text>
<text x="69.80" y="36.33" font-size="3.6" fill="#000" stroke="#000" stroke-width="0.13">X93508</text>
<text x="105.30" y="36.33" font-size="3.6" font-style="italic" fill="#000" stroke="#000" stroke-width="0.13">ZNF261</text>
<text x="141.50" y="36.33" font-size="3.6" font-style="italic" fill="#000" stroke="#000" stroke-width="0.13">Zinc finger protein 261</text>
<text x="69.80" y="41.36" font-size="3.6" fill="#000" stroke="#000" stroke-width="0.13">D14874</text>
<text x="105.30" y="41.36" font-size="3.6" fill="#000" stroke="#000" stroke-width="0.13">ADM</text>
<text x="141.50" y="41.36" font-size="3.6" fill="#000" stroke="#000" stroke-width="0.13">Adrenomedullin</text>
<text x="69.80" y="46.39" font-size="3.6" fill="#000" stroke="#000" stroke-width="0.13">M60357</text>
<text x="105.30" y="46.39" font-size="3.6" fill="#000" stroke="#000" stroke-width="0.13">B94, TNFAIP2</text>
<text x="141.50" y="46.39" font-size="3.6" fill="#000" stroke="#000" stroke-width="0.13">TNF-α</text>
<text x="69.80" y="51.42" font-size="3.6" fill="#000" stroke="#000" stroke-width="0.13">Y16961</text>
<text x="105.30" y="51.42" font-size="3.6" fill="#000" stroke="#000" stroke-width="0.13">KET, TP63</text>
<text x="141.50" y="51.42" font-size="3.6" fill="#000" stroke="#000" stroke-width="0.13">Tumor protein p63</text>
<text x="69.80" y="56.45" font-size="3.6" fill="#000" stroke="#000" stroke-width="0.13">AB006537</text>
<text x="105.30" y="56.45" font-size="3.6" fill="#000" stroke="#000" stroke-width="0.13">IL-1 Racp</text>
<text x="141.50" y="56.45" font-size="3.6" fill="#000" stroke="#000" stroke-width="0.13">Interleukin 1 receptor accessory protein IL-1 receptor</text>
<text x="69.80" y="61.48" font-size="3.6" fill="#000" stroke="#000" stroke-width="0.13">S59184</text>
<text x="105.30" y="61.48" font-size="3.6" fill="#000" stroke="#000" stroke-width="0.13">RYK</text>
<text x="141.50" y="61.48" font-size="3.6" fill="#000" stroke="#000" stroke-width="0.13">RYK receptor-like tyrosine kinase</text>
<text x="69.80" y="66.51" font-size="3.6" fill="#000" stroke="#000" stroke-width="0.13">AI365215</text>
<text x="105.30" y="66.51" font-size="3.6" fill="#000" stroke="#000" stroke-width="0.13">RRAS2, TC21</text>
<text x="141.50" y="66.51" font-size="3.6" fill="#000" stroke="#000" stroke-width="0.13">Related RAS viral (r-ras) oncogene</text>
<text x="69.80" y="71.54" font-size="3.6" fill="#000" stroke="#000" stroke-width="0.13">X51630</text>
<text x="105.30" y="71.54" font-size="3.6" fill="#000" stroke="#000" stroke-width="0.13">WT1</text>
<text x="141.50" y="71.54" font-size="3.6" fill="#000" stroke="#000" stroke-width="0.13">Wilms tumor 1</text>
<text x="69.80" y="76.57" font-size="3.6" fill="#000" stroke="#000" stroke-width="0.13">AB015331</text>
<text x="105.30" y="76.57" font-size="3.6" fill="#000" stroke="#000" stroke-width="0.13">BIKE</text>
<text x="141.50" y="76.57" font-size="3.6" fill="#000" stroke="#000" stroke-width="0.13">BMP-2 inducible kinase</text>
<text x="69.40" y="83.10" font-size="4.15" font-weight="bold" fill="#000" stroke="#000" stroke-width="0.22">Genes up-regulated in monosomy 7</text>
<text x="69.80" y="88.50" font-size="3.6" fill="#000" stroke="#000" stroke-width="0.13">U50535</text>
<text x="105.30" y="88.50" font-size="3.6" fill="#000" stroke="#000" stroke-width="0.13">BRCA2</text>
<text x="141.50" y="88.50" font-size="3.6" fill="#000" stroke="#000" stroke-width="0.13">Human BRCA2 region</text>
<text x="69.80" y="93.32" font-size="3.6" fill="#000" stroke="#000" stroke-width="0.13">U57092</text>
<text x="105.30" y="93.32" font-size="3.6" fill="#000" stroke="#000" stroke-width="0.13">RAB27B</text>
<text x="141.50" y="93.32" font-size="3.6" fill="#000" stroke="#000" stroke-width="0.13">Member RAS oncogene family</text>
<text x="69.80" y="98.14" font-size="3.6" fill="#000" stroke="#000" stroke-width="0.13">X07109</text>
<text x="105.30" y="98.14" font-size="3.6" fill="#000" stroke="#000" stroke-width="0.13">PRKCB1</text>
<text x="141.50" y="98.14" font-size="3.6" fill="#000" stroke="#000" stroke-width="0.13">Protein kinase C, β1</text>
<text x="69.80" y="102.96" font-size="3.6" fill="#000" stroke="#000" stroke-width="0.13">AF054180</text>
<text x="105.30" y="102.96" font-size="3.6" fill="#000" stroke="#000" stroke-width="0.13">ZNF254</text>
<text x="141.50" y="102.96" font-size="3.6" fill="#000" stroke="#000" stroke-width="0.13">Hematopoietic cell derived zinc finger protein</text>
<text x="69.80" y="107.78" font-size="3.6" fill="#000" stroke="#000" stroke-width="0.13">U41813</text>
<text x="105.30" y="107.78" font-size="3.6" fill="#000" stroke="#000" stroke-width="0.13">HOXA9</text>
<text x="141.50" y="107.78" font-size="3.6" fill="#000" stroke="#000" stroke-width="0.13">Homeobox gene 9</text>
<text x="69.80" y="112.60" font-size="3.6" fill="#000" stroke="#000" stroke-width="0.13">AF016266</text>
<text x="105.30" y="112.60" font-size="3.6" fill="#000" stroke="#000" stroke-width="0.13">TNFRSF10B</text>
<text x="141.50" y="112.60" font-size="3.6" fill="#000" stroke="#000" stroke-width="0.13">TNF superfamily (DR5)</text>
<text x="69.80" y="117.42" font-size="3.6" fill="#000" stroke="#000" stroke-width="0.13">U58334</text>
<text x="105.30" y="117.42" font-size="3.6" fill="#000" stroke="#000" stroke-width="0.13">TP53BP</text>
<text x="141.50" y="117.42" font-size="3.6" fill="#000" stroke="#000" stroke-width="0.13">Tumor protein p53 binding protein</text>
<text x="69.80" y="122.24" font-size="3.6" fill="#000" stroke="#000" stroke-width="0.13">L13689</text>
<text x="105.30" y="122.24" font-size="3.6" fill="#000" stroke="#000" stroke-width="0.13">BMI-1</text>
<text x="141.50" y="122.24" font-size="3.6" fill="#000" stroke="#000" stroke-width="0.13">B lymphoma Mo-MLV insertion region</text>
<text x="69.80" y="127.06" font-size="3.6" fill="#000" stroke="#000" stroke-width="0.13">U43899</text>
<text x="105.30" y="127.06" font-size="3.6" fill="#000" stroke="#000" stroke-width="0.13">STAM</text>
<text x="141.50" y="127.06" font-size="3.6" fill="#000" stroke="#000" stroke-width="0.13">Signal transducing adaptor molecule</text>
<text x="69.80" y="131.88" font-size="3.6" fill="#000" stroke="#000" stroke-width="0.13">AF048731</text>
<text x="105.30" y="131.88" font-size="3.6" fill="#000" stroke="#000" stroke-width="0.13">CCNT2</text>
<text x="141.50" y="131.88" font-size="3.6" fill="#000" stroke="#000" stroke-width="0.13">Cyclin T2</text>
<text x="69.80" y="136.70" font-size="3.6" fill="#000" stroke="#000" stroke-width="0.13">U57721</text>
<text x="105.30" y="136.70" font-size="3.6" fill="#000" stroke="#000" stroke-width="0.13">TRAIL</text>
<text x="141.50" y="136.70" font-size="3.6" fill="#000" stroke="#000" stroke-width="0.13">TNF-related apoptosis inducing ligand</text>
<text x="69.80" y="141.52" font-size="3.6" fill="#000" stroke="#000" stroke-width="0.13">AB021868</text>
<text x="105.30" y="141.52" font-size="3.6" fill="#000" stroke="#000" stroke-width="0.13">PIAS3</text>
<text x="141.50" y="141.52" font-size="3.6" fill="#000" stroke="#000" stroke-width="0.13">Protein inhibitor of activated STAT3</text>
<text x="69.80" y="146.34" font-size="3.6" fill="#000" stroke="#000" stroke-width="0.13">U68142</text>
<text x="105.30" y="146.34" font-size="3.6" fill="#000" stroke="#000" stroke-width="0.13">TPOR</text>
<text x="141.50" y="146.34" font-size="3.6" fill="#000" stroke="#000" stroke-width="0.13">Myeloproliferative leukemia virus oncogene</text>
<text x="69.80" y="151.16" font-size="3.6" fill="#000" stroke="#000" stroke-width="0.13">X98175</text>
<text x="105.30" y="151.16" font-size="3.6" fill="#000" stroke="#000" stroke-width="0.13">FLICE</text>
<text x="141.50" y="151.16" font-size="3.6" fill="#000" stroke="#000" stroke-width="0.13">Triggers cell death</text>
<text x="69.80" y="155.98" font-size="3.6" fill="#000" stroke="#000" stroke-width="0.13">U13045</text>
<text x="105.30" y="155.98" font-size="3.6" fill="#000" stroke="#000" stroke-width="0.13">GABPB1</text>
<text x="141.50" y="155.98" font-size="3.6" fill="#000" stroke="#000" stroke-width="0.13">GA-binding protein transcription factor, β subunit</text>
<text x="69.80" y="160.80" font-size="3.6" fill="#000" stroke="#000" stroke-width="0.13">X87838</text>
<text x="105.30" y="160.80" font-size="3.6" fill="#000" stroke="#000" stroke-width="0.13">CTNNB1</text>
<text x="141.50" y="160.80" font-size="3.6" fill="#000" stroke="#000" stroke-width="0.13">Catenin (cadherin-associated protein), β1</text>
<text x="69.80" y="165.62" font-size="3.6" fill="#000" stroke="#000" stroke-width="0.13">AF132297</text>
<text x="105.30" y="165.62" font-size="3.6" fill="#000" stroke="#000" stroke-width="0.13">CISH4.6</text>
<text x="141.50" y="165.62" font-size="3.6" fill="#000" stroke="#000" stroke-width="0.13">STAT induced STAT inhibitor 4</text>
<text x="69.80" y="170.44" font-size="3.6" fill="#000" stroke="#000" stroke-width="0.13">AB000584</text>
<text x="105.30" y="170.44" font-size="3.6" fill="#000" stroke="#000" stroke-width="0.13">PLAB</text>
<text x="141.50" y="170.44" font-size="3.6" fill="#000" stroke="#000" stroke-width="0.13">TGF β superfamily protein</text>
<text x="69.80" y="175.26" font-size="3.6" fill="#000" stroke="#000" stroke-width="0.13">AF076838</text>
<text x="105.30" y="175.26" font-size="3.6" fill="#000" stroke="#000" stroke-width="0.13">RAD17</text>
<text x="141.50" y="175.26" font-size="3.6" fill="#000" stroke="#000" stroke-width="0.13">Cell cycle checkpoint protein</text>
<text x="69.80" y="180.08" font-size="3.6" fill="#000" stroke="#000" stroke-width="0.13">M54968</text>
<text x="105.30" y="180.08" font-size="3.6" fill="#000" stroke="#000" stroke-width="0.13">K-ras2</text>
<text x="141.50" y="180.08" font-size="3.6" fill="#000" stroke="#000" stroke-width="0.13">v-Ki-ras2 Kirsten rat sarcoma 2 viral oncogene</text>
<text x="69.80" y="184.90" font-size="3.6" fill="#000" stroke="#000" stroke-width="0.13">AF022375</text>
<text x="105.30" y="184.90" font-size="3.6" fill="#000" stroke="#000" stroke-width="0.13">VEGF</text>
<text x="141.50" y="184.90" font-size="3.6" fill="#000" stroke="#000" stroke-width="0.13">Vascular endothelial growth factor</text>
<text x="69.80" y="189.72" font-size="3.6" fill="#000" stroke="#000" stroke-width="0.13">AJ224819</text>
<text x="105.30" y="189.72" font-size="3.6" fill="#000" stroke="#000" stroke-width="0.13">RFP</text>
<text x="141.50" y="189.72" font-size="3.6" fill="#000" stroke="#000" stroke-width="0.13">ret finger protein</text>
<text x="69.80" y="194.54" font-size="3.6" fill="#000" stroke="#000" stroke-width="0.13">X92814</text>
<text x="105.30" y="194.54" font-size="3.6" fill="#000" stroke="#000" stroke-width="0.13">SPHAR</text>
<text x="141.50" y="194.54" font-size="3.6" fill="#000" stroke="#000" stroke-width="0.13">Cyclin-related protein</text>
<text x="69.80" y="199.36" font-size="3.6" fill="#000" stroke="#000" stroke-width="0.13">D14350</text>
<text x="105.30" y="199.36" font-size="3.6" fill="#000" stroke="#000" stroke-width="0.13">RAB33A</text>
<text x="141.50" y="199.36" font-size="3.6" fill="#000" stroke="#000" stroke-width="0.13">GTP-binding protein (S10)</text>
<text x="69.80" y="204.18" font-size="3.6" fill="#000" stroke="#000" stroke-width="0.13">AF038844</text>
<text x="105.30" y="204.18" font-size="3.6" fill="#000" stroke="#000" stroke-width="0.13">DUSP14</text>
<text x="141.50" y="204.18" font-size="3.6" fill="#000" stroke="#000" stroke-width="0.13">dual specificity phosphatase 14</text>
<text x="69.80" y="209.00" font-size="3.6" fill="#000" stroke="#000" stroke-width="0.13">U65011</text>
<text x="105.30" y="209.00" font-size="3.6" fill="#000" stroke="#000" stroke-width="0.13">PRAME</text>
<text x="141.50" y="209.00" font-size="3.6" fill="#000" stroke="#000" stroke-width="0.13">Preferentially expressed antigen in melanoma</text>
<text x="69.40" y="215.90" font-size="4.15" font-weight="bold" fill="#000" stroke="#000" stroke-width="0.22">Genes up-regulated in trisomy 8</text>
<text x="69.80" y="220.80" font-size="3.6" fill="#000" stroke="#000" stroke-width="0.13">U10324</text>
<text x="105.30" y="220.80" font-size="3.6" fill="#000" stroke="#000" stroke-width="0.13">ILF3</text>
<text x="141.50" y="220.80" font-size="3.6" fill="#000" stroke="#000" stroke-width="0.13">Interleukin enhancer binding factor 3</text>
<text x="69.80" y="225.72" font-size="3.6" fill="#000" stroke="#000" stroke-width="0.13">M30257</text>
<text x="105.30" y="225.72" font-size="3.6" fill="#000" stroke="#000" stroke-width="0.13">VCAM-1</text>
<text x="141.50" y="225.72" font-size="3.6" fill="#000" stroke="#000" stroke-width="0.13">Vascular cell adhesion molecule 1</text>
<text x="69.80" y="230.64" font-size="3.6" fill="#000" stroke="#000" stroke-width="0.13">X06557</text>
<text x="105.30" y="230.64" font-size="3.6" fill="#000" stroke="#000" stroke-width="0.13">TCR</text>
<text x="141.50" y="230.64" font-size="3.6" fill="#000" stroke="#000" stroke-width="0.13">T cell receptor β locus</text>
<text x="69.80" y="235.56" font-size="3.6" fill="#000" stroke="#000" stroke-width="0.13">AF048732</text>
<text x="105.30" y="235.56" font-size="3.6" fill="#000" stroke="#000" stroke-width="0.13">CCNT2</text>
<text x="141.50" y="235.56" font-size="3.6" fill="#000" stroke="#000" stroke-width="0.13">Cyclin T2</text>
<text x="69.80" y="240.48" font-size="3.6" fill="#000" stroke="#000" stroke-width="0.13">X02812</text>
<text x="105.30" y="240.48" font-size="3.6" fill="#000" stroke="#000" stroke-width="0.13">TGF-β</text>
<text x="141.50" y="240.48" font-size="3.6" fill="#000" stroke="#000" stroke-width="0.13">Transforming growth factor</text>
<text x="69.80" y="245.40" font-size="3.6" fill="#000" stroke="#000" stroke-width="0.13">M81933</text>
<text x="105.30" y="245.40" font-size="3.6" fill="#000" stroke="#000" stroke-width="0.13">CDC25A</text>
<text x="141.50" y="245.40" font-size="3.6" fill="#000" stroke="#000" stroke-width="0.13">Cell division cycle 25A</text>
<text x="69.80" y="250.32" font-size="3.6" fill="#000" stroke="#000" stroke-width="0.13">U59632</text>
<text x="105.30" y="250.32" font-size="3.6" fill="#000" stroke="#000" stroke-width="0.13">CD42C</text>
<text x="141.50" y="250.32" font-size="3.6" fill="#000" stroke="#000" stroke-width="0.13">Platelet glycoprotein Ib IX V receptor</text>
<text x="69.80" y="255.24" font-size="3.6" fill="#000" stroke="#000" stroke-width="0.13">Y10645</text>
<text x="105.30" y="255.24" font-size="3.6" fill="#000" stroke="#000" stroke-width="0.13">MCP-2, SCYA8</text>
<text x="141.50" y="255.24" font-size="3.6" fill="#000" stroke="#000" stroke-width="0.13">Monocyte chemotactic protein</text>
<text x="69.80" y="260.16" font-size="3.6" fill="#000" stroke="#000" stroke-width="0.13">W27541</text>
<text x="105.30" y="260.16" font-size="3.6" fill="#000" stroke="#000" stroke-width="0.13">CEP4</text>
<text x="141.50" y="260.16" font-size="3.6" fill="#000" stroke="#000" stroke-width="0.13">Cdc42 effector protein 4</text>
<text x="69.80" y="265.08" font-size="3.6" fill="#000" stroke="#000" stroke-width="0.13">L07594</text>
<text x="105.30" y="265.08" font-size="3.6" fill="#000" stroke="#000" stroke-width="0.13">TGF (IPX)</text>
<text x="141.50" y="265.08" font-size="3.6" fill="#000" stroke="#000" stroke-width="0.13">Transforming growth factor, β receptor III</text>
<text x="69.80" y="270.00" font-size="3.6" fill="#000" stroke="#000" stroke-width="0.13">U45879</text>
<text x="105.30" y="270.00" font-size="3.6" fill="#000" stroke="#000" stroke-width="0.13">BIRC2</text>
<text x="141.50" y="270.00" font-size="3.6" fill="#000" stroke="#000" stroke-width="0.13">Inhibition of apoptosis protein (HIAP-1)</text>
<text x="69.80" y="274.92" font-size="3.6" fill="#000" stroke="#000" stroke-width="0.13">AF043129</text>
<text x="105.30" y="274.92" font-size="3.6" fill="#000" stroke="#000" stroke-width="0.13">IL-7R</text>
<text x="141.50" y="274.92" font-size="3.6" fill="#000" stroke="#000" stroke-width="0.13">Interleukin 7 receptor</text>
<text x="69.80" y="279.84" font-size="3.6" fill="#000" stroke="#000" stroke-width="0.13">J04076</text>
<text x="105.30" y="279.84" font-size="3.6" fill="#000" stroke="#000" stroke-width="0.13">KROX20</text>
<text x="141.50" y="279.84" font-size="3.6" fill="#000" stroke="#000" stroke-width="0.13">Early growth response 2 protein</text>
<text x="69.80" y="284.76" font-size="3.6" fill="#000" stroke="#000" stroke-width="0.13">U00672</text>
<text x="105.30" y="284.76" font-size="3.6" fill="#000" stroke="#000" stroke-width="0.13">IL-10RA</text>
<text x="141.50" y="284.76" font-size="3.6" fill="#000" stroke="#000" stroke-width="0.13">Interleukin 10 receptor, α</text>
<text x="69.80" y="289.68" font-size="3.6" fill="#000" stroke="#000" stroke-width="0.13">AF055376</text>
<text x="105.30" y="289.68" font-size="3.6" fill="#000" stroke="#000" stroke-width="0.13">MAF (c-maf)</text>
<text x="141.50" y="289.68" font-size="3.6" fill="#000" stroke="#000" stroke-width="0.13">b-zip transcription factor</text>
<text x="69.80" y="294.60" font-size="3.6" fill="#000" stroke="#000" stroke-width="0.13">X04430</text>
<text x="105.30" y="294.60" font-size="3.6" fill="#000" stroke="#000" stroke-width="0.13">IL-6</text>
<text x="141.50" y="294.60" font-size="3.6" fill="#000" stroke="#000" stroke-width="0.13">Interferon, β2</text>
<text x="69.80" y="299.52" font-size="3.6" fill="#000" stroke="#000" stroke-width="0.13">X57025</text>
<text x="105.30" y="299.52" font-size="3.6" fill="#000" stroke="#000" stroke-width="0.13">IGF-1, IGFBP4</text>
<text x="141.50" y="299.52" font-size="3.6" fill="#000" stroke="#000" stroke-width="0.13">Insulin growth factor</text>
<text x="69.80" y="304.44" font-size="3.6" fill="#000" stroke="#000" stroke-width="0.13">U75285</text>
<text x="105.30" y="304.44" font-size="3.6" fill="#000" stroke="#000" stroke-width="0.13">BIRC5</text>
<text x="141.50" y="304.44" font-size="3.6" fill="#000" stroke="#000" stroke-width="0.13">Apoptosis inhibitor surviving gene</text>
<text x="69.80" y="309.36" font-size="3.6" fill="#000" stroke="#000" stroke-width="0.13">M37712</text>
<text x="105.30" y="309.36" font-size="3.6" fill="#000" stroke="#000" stroke-width="0.13">CDC2L2</text>
<text x="141.50" y="309.36" font-size="3.6" fill="#000" stroke="#000" stroke-width="0.13">Cell division cycle 2-like 2</text>
<text x="69.80" y="314.28" font-size="3.6" fill="#000" stroke="#000" stroke-width="0.13">M76125</text>
<text x="105.30" y="314.28" font-size="3.6" fill="#000" stroke="#000" stroke-width="0.13">AXL, UFO</text>
<text x="141.50" y="314.28" font-size="3.6" fill="#000" stroke="#000" stroke-width="0.13">AXL receptor tyrosine kinase</text>
<text x="69.80" y="319.20" font-size="3.6" fill="#000" stroke="#000" stroke-width="0.13">X04434</text>
<text x="105.30" y="319.20" font-size="3.6" fill="#000" stroke="#000" stroke-width="0.13">IGF1R</text>
<text x="141.50" y="319.20" font-size="3.6" fill="#000" stroke="#000" stroke-width="0.13">Insulin-like growth factor 1 receptor</text>
<text x="69.80" y="324.12" font-size="3.6" fill="#000" stroke="#000" stroke-width="0.13">M68520</text>
<text x="105.30" y="324.12" font-size="3.6" fill="#000" stroke="#000" stroke-width="0.13">CDK2</text>
<text x="141.50" y="324.12" font-size="3.6" fill="#000" stroke="#000" stroke-width="0.13">Cyclin-dependent kinase 2</text>
<path d="M0.90,22.2 L1.30,21.3 L26.04,21.3 L26.44,22.2" fill="none" stroke="#8c8c84" stroke-width="0.6"/>
<text x="13.67" y="20.30" font-size="3.3" text-anchor="middle" fill="#333" stroke="#333" stroke-width="0.13">normal</text>
<path d="M27.62,22.2 L28.02,21.3 L39.40,21.3 L39.80,22.2" fill="none" stroke="#8c8c84" stroke-width="0.6"/>
<text x="33.71" y="20.30" font-size="3.3" text-anchor="middle" fill="#333" stroke="#333" stroke-width="0.13">-7</text>
<path d="M40.98,22.2 L41.38,21.3 L66.12,21.3 L66.52,22.2" fill="none" stroke="#8c8c84" stroke-width="0.6"/>
<text x="53.75" y="20.30" font-size="3.3" text-anchor="middle" fill="#333" stroke="#333" stroke-width="0.13">+8</text>
<path d="M2.35,26.5 L5.05,24.5" stroke="#444" stroke-width="0.8" fill="none"/>
<path d="M9.03,26.5 L11.73,24.5" stroke="#444" stroke-width="0.8" fill="none"/>
<path d="M15.71,26.5 L18.41,24.5" stroke="#444" stroke-width="0.8" fill="none"/>
<path d="M22.39,26.5 L25.09,24.5" stroke="#444" stroke-width="0.8" fill="none"/>
<path d="M29.07,26.5 L31.77,24.5" stroke="#444" stroke-width="0.8" fill="none"/>
<path d="M35.75,26.5 L38.45,24.5" stroke="#444" stroke-width="0.8" fill="none"/>
<path d="M42.43,26.5 L45.13,24.5" stroke="#444" stroke-width="0.8" fill="none"/>
<path d="M49.11,26.5 L51.81,24.5" stroke="#444" stroke-width="0.8" fill="none"/>
<path d="M55.79,26.5 L58.49,24.5" stroke="#444" stroke-width="0.8" fill="none"/>
<path d="M62.47,26.5 L65.17,24.5" stroke="#444" stroke-width="0.8" fill="none"/>
<text x="0" y="0" font-size="11.2" font-weight="bold" fill="#000" transform="translate(263.30,8.8) scale(1.18,1)">B</text>
<text x="344.70" y="14.00" font-size="4.95" font-weight="bold" text-anchor="middle" fill="#000" stroke="#000" stroke-width="0.08">Accession</text>
<text x="344.70" y="18.90" font-size="4.95" font-weight="bold" text-anchor="middle" fill="#000" stroke="#000" stroke-width="0.08">number</text>
<text x="370.80" y="18.90" font-size="4.95" font-weight="bold" fill="#000" stroke="#000" stroke-width="0.08">Gene</text>
<text x="406.60" y="18.90" font-size="4.8" font-weight="bold" fill="#000" stroke="#000" stroke-width="0.08">Entrez definition</text>
<text x="333.90" y="25.80" font-size="4.15" font-weight="bold" fill="#000" stroke="#000" stroke-width="0.22">Genes down-regulated in both monosomy 7 and trisomy 8</text>
<text x="334.30" y="31.50" font-size="3.6" fill="#000" stroke="#000" stroke-width="0.13">AI250799</text>
<text x="370.60" y="31.50" font-size="3.6" fill="#000" stroke="#000" stroke-width="0.13">DEFA4</text>
<text x="406.20" y="31.50" font-size="3.6" fill="#000" stroke="#000" stroke-width="0.13">Neutrophil defensin 4</text>
<text x="334.30" y="36.82" font-size="3.6" fill="#000" stroke="#000" stroke-width="0.13">X14046</text>
<text x="370.60" y="36.82" font-size="3.6" fill="#000" stroke="#000" stroke-width="0.13">CD37</text>
<text x="406.20" y="36.82" font-size="3.6" fill="#000" stroke="#000" stroke-width="0.13">Cell surface glycoprotein</text>
<text x="334.30" y="42.14" font-size="3.6" fill="#000" stroke="#000" stroke-width="0.13">M33326</text>
<text x="370.60" y="42.14" font-size="3.6" fill="#000" stroke="#000" stroke-width="0.13">CEACAM8</text>
<text x="406.20" y="42.14" font-size="3.6" fill="#000" stroke="#000" stroke-width="0.13">Human nonspecific cross-reacting antigen</text>
<text x="334.30" y="47.46" font-size="3.6" fill="#000" stroke="#000" stroke-width="0.13">S53911</text>
<text x="370.60" y="47.46" font-size="3.6" fill="#000" stroke="#000" stroke-width="0.13">CD34</text>
<text x="406.20" y="47.46" font-size="3.6" fill="#000" stroke="#000" stroke-width="0.13">CD34 antigen</text>
<text x="334.30" y="52.78" font-size="3.6" fill="#000" stroke="#000" stroke-width="0.13">Z23115</text>
<text x="370.60" y="52.78" font-size="3.6" fill="#000" stroke="#000" stroke-width="0.13">bcl-XL</text>
<text x="406.20" y="52.78" font-size="3.6" fill="#000" stroke="#000" stroke-width="0.13">Bcl-XL gene</text>
<text x="334.30" y="58.10" font-size="3.6" fill="#000" stroke="#000" stroke-width="0.13">U38979</text>
<text x="370.60" y="58.10" font-size="3.6" fill="#000" stroke="#000" stroke-width="0.13">PMS2L9</text>
<text x="406.20" y="58.10" font-size="3.6" fill="#000" stroke="#000" stroke-width="0.13">PMS2 related gene</text>
<text x="334.30" y="63.42" font-size="3.6" fill="#000" stroke="#000" stroke-width="0.13">X06882</text>
<text x="370.60" y="63.42" font-size="3.6" fill="#000" stroke="#000" stroke-width="0.13">CD14</text>
<text x="406.20" y="63.42" font-size="3.6" fill="#000" stroke="#000" stroke-width="0.13">Human gene for CD14 differentiation antigen</text>
<text x="334.30" y="68.74" font-size="3.6" fill="#000" stroke="#000" stroke-width="0.13">M16660</text>
<text x="370.60" y="68.74" font-size="3.6" fill="#000" stroke="#000" stroke-width="0.13">HSPCB</text>
<text x="406.20" y="68.74" font-size="3.6" fill="#000" stroke="#000" stroke-width="0.13">Heat shock 90KD protein 1, β</text>
<text x="334.30" y="74.06" font-size="3.6" fill="#000" stroke="#000" stroke-width="0.13">M34480</text>
<text x="370.60" y="74.06" font-size="3.6" fill="#000" stroke="#000" stroke-width="0.13">CD41B</text>
<text x="406.20" y="74.06" font-size="3.6" fill="#000" stroke="#000" stroke-width="0.13">Platelet glycoprotein IIb, antigen</text>
<text x="334.30" y="79.38" font-size="3.6" fill="#000" stroke="#000" stroke-width="0.13">X66867</text>
<text x="370.60" y="79.38" font-size="3.6" fill="#000" stroke="#000" stroke-width="0.13">Max</text>
<text x="406.20" y="79.38" font-size="3.6" fill="#000" stroke="#000" stroke-width="0.13">Max gene</text>
<text x="334.30" y="84.70" font-size="3.6" fill="#000" stroke="#000" stroke-width="0.13">X62572</text>
<text x="370.60" y="84.70" font-size="3.6" fill="#000" stroke="#000" stroke-width="0.13">FCGR2B</text>
<text x="406.20" y="84.70" font-size="3.6" fill="#000" stroke="#000" stroke-width="0.13">Fc fragment of IgG</text>
<text x="334.30" y="90.02" font-size="3.6" fill="#000" stroke="#000" stroke-width="0.13">M25897</text>
<text x="370.60" y="90.02" font-size="3.6" fill="#000" stroke="#000" stroke-width="0.13">PF4</text>
<text x="406.20" y="90.02" font-size="3.6" fill="#000" stroke="#000" stroke-width="0.13">Platelet factor 4</text>
<text x="334.30" y="95.34" font-size="3.6" fill="#000" stroke="#000" stroke-width="0.13">U03905</text>
<text x="370.60" y="95.34" font-size="3.6" fill="#000" stroke="#000" stroke-width="0.13">CCR2</text>
<text x="406.20" y="95.34" font-size="3.6" fill="#000" stroke="#000" stroke-width="0.13">Chemokine receptor-2</text>
<text x="334.30" y="100.66" font-size="3.6" fill="#000" stroke="#000" stroke-width="0.13">AF072902</text>
<text x="370.60" y="100.66" font-size="3.6" fill="#000" stroke="#000" stroke-width="0.13">AES</text>
<text x="406.20" y="100.66" font-size="3.6" fill="#000" stroke="#000" stroke-width="0.13">Amino-terminal enhancer of split</text>
<text x="334.30" y="105.98" font-size="3.6" fill="#000" stroke="#000" stroke-width="0.13">X54871</text>
<text x="370.60" y="105.98" font-size="3.6" fill="#000" stroke="#000" stroke-width="0.13">RAB5</text>
<text x="406.20" y="105.98" font-size="3.6" fill="#000" stroke="#000" stroke-width="0.13">GTP-binding protein</text>
<text x="333.90" y="113.60" font-size="4.15" font-weight="bold" fill="#000" stroke="#000" stroke-width="0.22">Genes down-regulated in monosomy 7</text>
<text x="334.30" y="118.90" font-size="3.6" fill="#000" stroke="#000" stroke-width="0.13">U36764</text>
<text x="370.60" y="118.90" font-size="3.6" fill="#000" stroke="#000" stroke-width="0.13">EIF3S2</text>
<text x="406.20" y="118.90" font-size="3.6" fill="#000" stroke="#000" stroke-width="0.13">Eukaryotic translation initiation factor 3</text>
<text x="334.30" y="124.28" font-size="3.6" fill="#000" stroke="#000" stroke-width="0.13">U21689</text>
<text x="370.60" y="124.28" font-size="3.6" fill="#000" stroke="#000" stroke-width="0.13">GSTP1</text>
<text x="406.20" y="124.28" font-size="3.6" fill="#000" stroke="#000" stroke-width="0.13">Human glutathione S-transferase-P1c</text>
<text x="334.30" y="129.66" font-size="3.6" fill="#000" stroke="#000" stroke-width="0.13">X74795</text>
<text x="370.60" y="129.66" font-size="3.6" fill="#000" stroke="#000" stroke-width="0.13">MCM5</text>
<text x="406.20" y="129.66" font-size="3.6" fill="#000" stroke="#000" stroke-width="0.13">Minichromosome maintenance deficient</text>
<text x="334.30" y="135.04" font-size="3.6" fill="#000" stroke="#000" stroke-width="0.13">U39067</text>
<text x="370.60" y="135.04" font-size="3.6" fill="#000" stroke="#000" stroke-width="0.13">EIF3S2</text>
<text x="406.20" y="135.04" font-size="3.6" fill="#000" stroke="#000" stroke-width="0.13">Eukaryotic translation initiation factor 3, subunit 2</text>
<text x="334.30" y="140.42" font-size="3.6" fill="#000" stroke="#000" stroke-width="0.13">L76191</text>
<text x="370.60" y="140.42" font-size="3.6" fill="#000" stroke="#000" stroke-width="0.13">IRAK1</text>
<text x="406.20" y="140.42" font-size="3.6" fill="#000" stroke="#000" stroke-width="0.13">Interleukin-1 receptor-associated kinase 1</text>
<text x="334.30" y="145.80" font-size="3.6" fill="#000" stroke="#000" stroke-width="0.13">X56681</text>
<text x="370.60" y="145.80" font-size="3.6" fill="#000" stroke="#000" stroke-width="0.13">JUND</text>
<text x="406.20" y="145.80" font-size="3.6" fill="#000" stroke="#000" stroke-width="0.13">Jun D proto-oncogene</text>
<text x="334.30" y="151.18" font-size="3.6" fill="#000" stroke="#000" stroke-width="0.13">X69819</text>
<text x="370.60" y="151.18" font-size="3.6" fill="#000" stroke="#000" stroke-width="0.13">ICAM3</text>
<text x="406.20" y="151.18" font-size="3.6" fill="#000" stroke="#000" stroke-width="0.13">Intercellular adhesion molecule 3</text>
<text x="334.30" y="156.56" font-size="3.6" fill="#000" stroke="#000" stroke-width="0.13">D13748</text>
<text x="370.60" y="156.56" font-size="3.6" fill="#000" stroke="#000" stroke-width="0.13">EIF4A1</text>
<text x="406.20" y="156.56" font-size="3.6" fill="#000" stroke="#000" stroke-width="0.13">Eukaryotic translation initiation factor 4A</text>
<text x="334.30" y="161.94" font-size="3.6" fill="#000" stroke="#000" stroke-width="0.13">M64673</text>
<text x="370.60" y="161.94" font-size="3.6" fill="#000" stroke="#000" stroke-width="0.13">HSF1</text>
<text x="406.20" y="161.94" font-size="3.6" fill="#000" stroke="#000" stroke-width="0.13">Heat shock transcription factor 1</text>
<text x="334.30" y="167.32" font-size="3.6" fill="#000" stroke="#000" stroke-width="0.13">M91670</text>
<text x="370.60" y="167.32" font-size="3.6" fill="#000" stroke="#000" stroke-width="0.13">E2-EPF</text>
<text x="406.20" y="167.32" font-size="3.6" fill="#000" stroke="#000" stroke-width="0.13">Ubiquitin carrier protein</text>
<text x="334.30" y="172.70" font-size="3.6" fill="#000" stroke="#000" stroke-width="0.13">U12255</text>
<text x="370.60" y="172.70" font-size="3.6" fill="#000" stroke="#000" stroke-width="0.13">FCGRT</text>
<text x="406.20" y="172.70" font-size="3.6" fill="#000" stroke="#000" stroke-width="0.13">Fc fragment of IgG, receptor</text>
<text x="334.30" y="178.08" font-size="3.6" fill="#000" stroke="#000" stroke-width="0.13">M32334</text>
<text x="370.60" y="178.08" font-size="3.6" fill="#000" stroke="#000" stroke-width="0.13">ICAM2</text>
<text x="406.20" y="178.08" font-size="3.6" fill="#000" stroke="#000" stroke-width="0.13">CD102 intercellular adhesion molecule 2</text>
<text x="334.30" y="183.46" font-size="3.6" fill="#000" stroke="#000" stroke-width="0.13">U24153</text>
<text x="370.60" y="183.46" font-size="3.6" fill="#000" stroke="#000" stroke-width="0.13">PAK2</text>
<text x="406.20" y="183.46" font-size="3.6" fill="#000" stroke="#000" stroke-width="0.13">p21 (CDKN1A)-activated kinase 2</text>
<text x="334.30" y="188.84" font-size="3.6" fill="#000" stroke="#000" stroke-width="0.13">M77810</text>
<text x="370.60" y="188.84" font-size="3.6" fill="#000" stroke="#000" stroke-width="0.13">GATA2</text>
<text x="406.20" y="188.84" font-size="3.6" fill="#000" stroke="#000" stroke-width="0.13">GATA binding protein 2</text>
<text x="334.30" y="194.22" font-size="3.6" fill="#000" stroke="#000" stroke-width="0.13">L19161</text>
<text x="370.60" y="194.22" font-size="3.6" fill="#000" stroke="#000" stroke-width="0.13">EIF2S3</text>
<text x="406.20" y="194.22" font-size="3.6" fill="#000" stroke="#000" stroke-width="0.13">Eukaryotic translation initiation factor</text>
<text x="334.30" y="199.60" font-size="3.6" fill="#000" stroke="#000" stroke-width="0.13">AJ011896</text>
<text x="370.60" y="199.60" font-size="3.6" fill="#000" stroke="#000" stroke-width="0.13">NAF1</text>
<text x="406.20" y="199.60" font-size="3.6" fill="#000" stroke="#000" stroke-width="0.13">Nef-associated factor 1</text>
<text x="334.30" y="204.98" font-size="3.6" fill="#000" stroke="#000" stroke-width="0.13">AF064491</text>
<text x="370.60" y="204.98" font-size="3.6" fill="#000" stroke="#000" stroke-width="0.13">LDB1</text>
<text x="406.20" y="204.98" font-size="3.6" fill="#000" stroke="#000" stroke-width="0.13">LIM domain binding 1</text>
<text x="334.30" y="210.36" font-size="3.6" fill="#000" stroke="#000" stroke-width="0.13">X60957</text>
<text x="370.60" y="210.36" font-size="3.6" fill="#000" stroke="#000" stroke-width="0.13">TIE</text>
<text x="406.20" y="210.36" font-size="3.6" fill="#000" stroke="#000" stroke-width="0.13">Tyrosine kinase</text>
<text x="334.30" y="215.74" font-size="3.6" fill="#000" stroke="#000" stroke-width="0.13">M92287</text>
<text x="370.60" y="215.74" font-size="3.6" fill="#000" stroke="#000" stroke-width="0.13">CCND3</text>
<text x="406.20" y="215.74" font-size="3.6" fill="#000" stroke="#000" stroke-width="0.13">Cyclin D3</text>
<text x="334.30" y="221.12" font-size="3.6" fill="#000" stroke="#000" stroke-width="0.13">L35263</text>
<text x="370.60" y="221.12" font-size="3.6" fill="#000" stroke="#000" stroke-width="0.13">MAPK14</text>
<text x="406.20" y="221.12" font-size="3.6" fill="#000" stroke="#000" stroke-width="0.13">Mitogen-activated protein kinase 14</text>
<text x="334.30" y="226.50" font-size="3.6" fill="#000" stroke="#000" stroke-width="0.13">U16031</text>
<text x="370.60" y="226.50" font-size="3.6" fill="#000" stroke="#000" stroke-width="0.13">STAT6</text>
<text x="406.20" y="226.50" font-size="3.6" fill="#000" stroke="#000" stroke-width="0.13">Signal transducer and activator of transcription 6</text>
<text x="334.30" y="231.88" font-size="3.6" fill="#000" stroke="#000" stroke-width="0.13">M58603</text>
<text x="370.60" y="231.88" font-size="3.6" fill="#000" stroke="#000" stroke-width="0.13">NFKB1</text>
<text x="406.20" y="231.88" font-size="3.6" fill="#000" stroke="#000" stroke-width="0.13">Nuclear factor of κ light polypeptide gene enhancer</text>
<text x="334.30" y="237.26" font-size="3.6" fill="#000" stroke="#000" stroke-width="0.13">U23946</text>
<text x="370.60" y="237.26" font-size="3.6" fill="#000" stroke="#000" stroke-width="0.13">RBM5</text>
<text x="406.20" y="237.26" font-size="3.6" fill="#000" stroke="#000" stroke-width="0.13">RNA binding motif protein 5</text>
<text x="334.30" y="242.64" font-size="3.6" fill="#000" stroke="#000" stroke-width="0.13">L05624</text>
<text x="370.60" y="242.64" font-size="3.6" fill="#000" stroke="#000" stroke-width="0.13">MAP2K1</text>
<text x="406.20" y="242.64" font-size="3.6" fill="#000" stroke="#000" stroke-width="0.13">Mitogen-activated protein kinase 1</text>
<text x="334.30" y="248.02" font-size="3.6" fill="#000" stroke="#000" stroke-width="0.13">U11732</text>
<text x="370.60" y="248.02" font-size="3.6" fill="#000" stroke="#000" stroke-width="0.13">ETV6</text>
<text x="406.20" y="248.02" font-size="3.6" fill="#000" stroke="#000" stroke-width="0.13">TEL oncogene</text>
<text x="334.30" y="253.40" font-size="3.6" fill="#000" stroke="#000" stroke-width="0.13">L03376</text>
<text x="370.60" y="253.40" font-size="3.6" fill="#000" stroke="#000" stroke-width="0.13">MYB</text>
<text x="406.20" y="253.40" font-size="3.6" fill="#000" stroke="#000" stroke-width="0.13">Human (c-myb)</text>
<text x="333.90" y="261.30" font-size="4.15" font-weight="bold" fill="#000" stroke="#000" stroke-width="0.22">Genes down-regulated in trisomy 8</text>
<text x="334.30" y="266.30" font-size="3.6" fill="#000" stroke="#000" stroke-width="0.13">X06948</text>
<text x="370.60" y="266.30" font-size="3.6" fill="#000" stroke="#000" stroke-width="0.13">FCER1A</text>
<text x="406.20" y="266.30" font-size="3.6" fill="#000" stroke="#000" stroke-width="0.13">Fc fragment of IgE</text>
<text x="334.30" y="271.70" font-size="3.6" fill="#000" stroke="#000" stroke-width="0.13">X57655</text>
<text x="370.60" y="271.70" font-size="3.6" fill="#000" stroke="#000" stroke-width="0.13">SPINK2</text>
<text x="406.20" y="271.70" font-size="3.6" fill="#000" stroke="#000" stroke-width="0.13">Serine protease inhibitor</text>
<text x="334.30" y="277.10" font-size="3.6" fill="#000" stroke="#000" stroke-width="0.13">U09602</text>
<text x="370.60" y="277.10" font-size="3.6" fill="#000" stroke="#000" stroke-width="0.13">CD42C</text>
<text x="406.20" y="277.10" font-size="3.6" fill="#000" stroke="#000" stroke-width="0.13">Platelet glycoprotein Ib-IX V receptor</text>
<text x="334.30" y="282.50" font-size="3.6" fill="#000" stroke="#000" stroke-width="0.13">M34182</text>
<text x="370.60" y="282.50" font-size="3.6" fill="#000" stroke="#000" stroke-width="0.13">PRKACG</text>
<text x="406.20" y="282.50" font-size="3.6" fill="#000" stroke="#000" stroke-width="0.13">Protein kinase</text>
<text x="334.30" y="287.90" font-size="3.6" fill="#000" stroke="#000" stroke-width="0.13">M54995</text>
<text x="370.60" y="287.90" font-size="3.6" fill="#000" stroke="#000" stroke-width="0.13">PPBP</text>
<text x="406.20" y="287.90" font-size="3.6" fill="#000" stroke="#000" stroke-width="0.13">Pro-platelet basic protein</text>
<text x="334.30" y="293.30" font-size="3.6" fill="#000" stroke="#000" stroke-width="0.13">U45878</text>
<text x="370.60" y="293.30" font-size="3.6" fill="#000" stroke="#000" stroke-width="0.13">BIRC3</text>
<text x="406.20" y="293.30" font-size="3.6" fill="#000" stroke="#000" stroke-width="0.13">Inhibition of apoptosis protein (HIAP-1)</text>
<text x="334.30" y="298.70" font-size="3.6" fill="#000" stroke="#000" stroke-width="0.13">U51712</text>
<text x="370.60" y="298.70" font-size="3.6" fill="#000" stroke="#000" stroke-width="0.13">LAGY</text>
<text x="406.20" y="298.70" font-size="3.6" fill="#000" stroke="#000" stroke-width="0.13">Lung cancer-associated Y protein</text>
<text x="334.30" y="304.10" font-size="3.6" fill="#000" stroke="#000" stroke-width="0.13">U75285</text>
<text x="370.60" y="304.10" font-size="3.6" fill="#000" stroke="#000" stroke-width="0.13">BIRC5</text>
<text x="406.20" y="304.10" font-size="3.6" fill="#000" stroke="#000" stroke-width="0.13">Apoptosis inhibitor surviving gene</text>
<text x="334.30" y="309.50" font-size="3.6" fill="#000" stroke="#000" stroke-width="0.13">U80017</text>
<text x="370.60" y="309.50" font-size="3.6" fill="#000" stroke="#000" stroke-width="0.13">NAIP</text>
<text x="406.20" y="309.50" font-size="3.6" fill="#000" stroke="#000" stroke-width="0.13">Baculoviral IAP repeat-containing 1</text>
<path d="M264.90,22.2 L265.30,21.3 L290.70,21.3 L291.10,22.2" fill="none" stroke="#8c8c84" stroke-width="0.6"/>
<text x="278.00" y="20.30" font-size="3.3" text-anchor="middle" fill="#333" stroke="#333" stroke-width="0.13">normal</text>
<path d="M292.50,22.2 L292.90,21.3 L304.50,21.3 L304.90,22.2" fill="none" stroke="#8c8c84" stroke-width="0.6"/>
<text x="298.70" y="20.30" font-size="3.3" text-anchor="middle" fill="#333" stroke="#333" stroke-width="0.13">-7</text>
<path d="M306.30,22.2 L306.70,21.3 L332.10,21.3 L332.50,22.2" fill="none" stroke="#8c8c84" stroke-width="0.6"/>
<text x="319.40" y="20.30" font-size="3.3" text-anchor="middle" fill="#333" stroke="#333" stroke-width="0.13">+8</text>
<path d="M266.35,26.5 L269.05,24.5" stroke="#444" stroke-width="0.8" fill="none"/>
<path d="M273.25,26.5 L275.95,24.5" stroke="#444" stroke-width="0.8" fill="none"/>
<path d="M280.15,26.5 L282.85,24.5" stroke="#444" stroke-width="0.8" fill="none"/>
<path d="M287.05,26.5 L289.75,24.5" stroke="#444" stroke-width="0.8" fill="none"/>
<path d="M293.95,26.5 L296.65,24.5" stroke="#444" stroke-width="0.8" fill="none"/>
<path d="M300.85,26.5 L303.55,24.5" stroke="#444" stroke-width="0.8" fill="none"/>
<path d="M307.75,26.5 L310.45,24.5" stroke="#444" stroke-width="0.8" fill="none"/>
<path d="M314.65,26.5 L317.35,24.5" stroke="#444" stroke-width="0.8" fill="none"/>
<path d="M321.55,26.5 L324.25,24.5" stroke="#444" stroke-width="0.8" fill="none"/>
<path d="M328.45,26.5 L331.15,24.5" stroke="#444" stroke-width="0.8" fill="none"/>
<rect x="231.70" y="212.60" width="12.1" height="111.40" fill="url(#lg)"/>
<rect x="231.70" y="212.60" width="12.1" height="111.40" fill="url(#lh)"/>
<text x="245.50" y="221.20" font-size="3.7" fill="#333" stroke="#333" stroke-width="0.15">5.0</text>
<text x="245.50" y="227.70" font-size="3.7" fill="#333" stroke="#333" stroke-width="0.15">4.0</text>
<text x="245.50" y="234.80" font-size="3.7" fill="#333" stroke="#333" stroke-width="0.15">3.0</text>
<text x="245.50" y="239.90" font-size="3.7" fill="#333" stroke="#333" stroke-width="0.15">2.5</text>
<text x="245.50" y="245.10" font-size="3.7" fill="#333" stroke="#333" stroke-width="0.15">2.0</text>
<text x="245.50" y="252.20" font-size="3.7" fill="#333" stroke="#333" stroke-width="0.15">1.5</text>
<text x="245.50" y="258.80" font-size="3.7" fill="#333" stroke="#333" stroke-width="0.15">1.2</text>
<text x="245.50" y="269.60" font-size="3.7" fill="#333" stroke="#333" stroke-width="0.15">1.0</text>
<text x="245.50" y="275.10" font-size="3.7" fill="#333" stroke="#333" stroke-width="0.15">0.9</text>
<text x="245.50" y="280.40" font-size="3.7" fill="#333" stroke="#333" stroke-width="0.15">0.8</text>
<text x="245.50" y="285.80" font-size="3.7" fill="#333" stroke="#333" stroke-width="0.15">0.7</text>
<text x="245.50" y="291.20" font-size="3.7" fill="#333" stroke="#333" stroke-width="0.15">0.6</text>
<text x="245.50" y="296.40" font-size="3.7" fill="#333" stroke="#333" stroke-width="0.15">0.5</text>
<text x="245.50" y="302.10" font-size="3.7" fill="#333" stroke="#333" stroke-width="0.15">0.4</text>
<text x="245.50" y="307.40" font-size="3.7" fill="#333" stroke="#333" stroke-width="0.15">0.3</text>
<text x="245.50" y="312.80" font-size="3.7" fill="#333" stroke="#333" stroke-width="0.15">0.2</text>
<text x="245.50" y="317.80" font-size="3.7" fill="#333" stroke="#333" stroke-width="0.15">0.1</text>
<text x="245.50" y="321.90" font-size="3.7" fill="#333" stroke="#333" stroke-width="0.15">0.0</text>
<text x="0" y="0" font-size="4.1" fill="#222" stroke="#222" stroke-width="0.12" text-anchor="middle" transform="translate(229.60,267.40) rotate(-90)">Expression</text>
<rect x="500.40" y="199.60" width="12.1" height="111.60" fill="url(#lg)"/>
<rect x="500.40" y="199.60" width="12.1" height="111.60" fill="url(#lh)"/>
<text x="513.80" y="208.20" font-size="3.7" fill="#333" stroke="#333" stroke-width="0.15">5.0</text>
<text x="513.80" y="214.70" font-size="3.7" fill="#333" stroke="#333" stroke-width="0.15">4.0</text>
<text x="513.80" y="221.80" font-size="3.7" fill="#333" stroke="#333" stroke-width="0.15">3.0</text>
<text x="513.80" y="226.90" font-size="3.7" fill="#333" stroke="#333" stroke-width="0.15">2.5</text>
<text x="513.80" y="232.10" font-size="3.7" fill="#333" stroke="#333" stroke-width="0.15">2.0</text>
<text x="513.80" y="239.20" font-size="3.7" fill="#333" stroke="#333" stroke-width="0.15">1.5</text>
<text x="513.80" y="245.80" font-size="3.7" fill="#333" stroke="#333" stroke-width="0.15">1.2</text>
<text x="513.80" y="256.60" font-size="3.7" fill="#333" stroke="#333" stroke-width="0.15">1.0</text>
<text x="513.80" y="262.10" font-size="3.7" fill="#333" stroke="#333" stroke-width="0.15">0.9</text>
<text x="513.80" y="267.40" font-size="3.7" fill="#333" stroke="#333" stroke-width="0.15">0.8</text>
<text x="513.80" y="272.80" font-size="3.7" fill="#333" stroke="#333" stroke-width="0.15">0.7</text>
<text x="513.80" y="278.20" font-size="3.7" fill="#333" stroke="#333" stroke-width="0.15">0.6</text>
<text x="513.80" y="283.40" font-size="3.7" fill="#333" stroke="#333" stroke-width="0.15">0.5</text>
<text x="513.80" y="289.10" font-size="3.7" fill="#333" stroke="#333" stroke-width="0.15">0.4</text>
<text x="513.80" y="294.40" font-size="3.7" fill="#333" stroke="#333" stroke-width="0.15">0.3</text>
<text x="513.80" y="299.80" font-size="3.7" fill="#333" stroke="#333" stroke-width="0.15">0.2</text>
<text x="513.80" y="304.80" font-size="3.7" fill="#333" stroke="#333" stroke-width="0.15">0.1</text>
<text x="513.80" y="308.90" font-size="3.7" fill="#333" stroke="#333" stroke-width="0.15">0.0</text>
<text x="0" y="0" font-size="4.1" fill="#222" stroke="#222" stroke-width="0.12" text-anchor="middle" transform="translate(497.80,254.40) rotate(-90)">Expression</text></g>
</svg>
</body></html>
